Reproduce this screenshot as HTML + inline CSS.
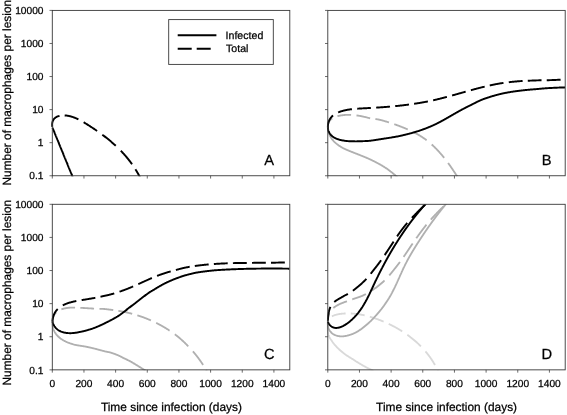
<!DOCTYPE html>
<html><head><meta charset="utf-8"><title>Figure</title>
<style>html,body{margin:0;padding:0;background:#fff}svg{display:block;will-change:transform}</style></head>
<body>
<svg text-rendering="geometricPrecision" width="567" height="415" viewBox="0 0 567 415" font-family="'Liberation Sans',Arial,sans-serif" stroke-linecap="butt">
<rect width="567" height="415" fill="#fff"/>
<defs>
<clipPath id="cpA"><rect x="51.10" y="10.40" width="238.70" height="165.75"/></clipPath>
<clipPath id="cpB"><rect x="326.60" y="10.40" width="238.60" height="165.75"/></clipPath>
<clipPath id="cpC"><rect x="51.10" y="204.30" width="238.70" height="165.95"/></clipPath>
<clipPath id="cpD"><rect x="326.60" y="204.30" width="238.60" height="165.95"/></clipPath>
</defs>
<g clip-path="url(#cpA)" fill="none" stroke-linejoin="round">
<path d="M52.49 127.63 52.60 127.89 52.70 128.15 52.81 128.40 52.91 128.66 53.02 128.91 53.12 129.17 53.23 129.43 53.33 129.68 53.43 129.94 53.54 130.19 53.64 130.45 53.75 130.71 53.85 130.96 53.96 131.22 54.06 131.47 54.17 131.73 54.27 131.99 54.38 132.24 54.48 132.50 54.59 132.75 54.69 133.01 54.80 133.27 54.90 133.52 55.00 133.78 55.11 134.04 55.21 134.29 55.32 134.55 55.42 134.80 55.53 135.06 55.63 135.32 55.74 135.57 55.84 135.83 55.95 136.08 56.05 136.34 56.16 136.60 56.26 136.85 56.37 137.11 56.47 137.36 56.57 137.62 56.68 137.88 56.78 138.13 56.89 138.39 56.99 138.64 57.10 138.90 57.20 139.16 57.31 139.41 57.41 139.67 57.52 139.92 57.62 140.18 57.73 140.44 57.83 140.69 57.94 140.95 58.04 141.20 58.14 141.46 58.25 141.72 58.35 141.97 58.46 142.23 58.56 142.48 58.67 142.74 58.77 143.00 58.88 143.25 58.98 143.51 59.09 143.76 59.19 144.02 59.30 144.28 59.40 144.53 59.51 144.79 59.61 145.05 59.71 145.30 59.82 145.56 59.92 145.81 60.03 146.07 60.13 146.33 60.24 146.58 60.34 146.84 60.45 147.09 60.55 147.35 60.66 147.61 60.76 147.86 60.87 148.12 60.97 148.37 61.08 148.63 61.18 148.89 61.28 149.14 61.39 149.40 61.49 149.65 61.60 149.91 61.70 150.17 61.81 150.42 61.91 150.68 62.02 150.93 62.12 151.19 62.23 151.45 62.33 151.70 62.44 151.96 62.54 152.21 62.65 152.47 62.75 152.73 62.85 152.98 62.96 153.24 63.06 153.49 63.17 153.75 63.27 154.01 63.38 154.26 63.48 154.52 63.59 154.78 63.69 155.03 63.80 155.29 63.90 155.54 64.01 155.80 64.11 156.06 64.22 156.31 64.32 156.57 64.43 156.82 64.53 157.08 64.63 157.34 64.74 157.59 64.84 157.85 64.95 158.10 65.05 158.36 65.16 158.62 65.26 158.87 65.37 159.13 65.47 159.38 65.58 159.64 65.68 159.90 65.79 160.15 65.89 160.41 66.00 160.66 66.10 160.92 66.20 161.18 66.31 161.43 66.41 161.69 66.52 161.94 66.62 162.20 66.73 162.46 66.83 162.71 66.94 162.97 67.04 163.22 67.15 163.48 67.25 163.74 67.36 163.99 67.46 164.25 67.57 164.50 67.67 164.76 67.77 165.02 67.88 165.27 67.98 165.53 68.09 165.79 68.19 166.04 68.30 166.30 68.40 166.55 68.51 166.81 68.61 167.07 68.72 167.32 68.82 167.58 68.93 167.83 69.03 168.09 69.14 168.35 69.24 168.60 69.34 168.86 69.45 169.11 69.55 169.37 69.66 169.63 69.76 169.88 69.87 170.14 69.97 170.39 70.08 170.65 70.18 170.91 70.29 171.16 70.39 171.42 70.50 171.67 70.60 171.93 70.71 172.19 70.81 172.44 70.91 172.70 71.02 172.95 71.12 173.21 71.23 173.47 71.33 173.72 71.44 173.98 71.54 174.23 71.65 174.49 71.75 174.75 71.86 175.00 71.96 175.26 72.07 175.51 72.17 175.77 72.28 176.03 72.38 176.28 72.48 176.54 72.59 176.80 72.69 177.05 72.80 177.31 72.90 177.56 73.01 177.82 73.11 178.08 73.22 178.33 73.32 178.59" stroke="#000" stroke-width="1.95"/>
<path d="M52.34 126.92 52.26 126.46 52.20 125.99 52.15 125.53 52.13 125.08 52.12 124.63 52.13 124.19 52.16 123.76 52.21 123.33 52.27 122.92 52.35 122.51 52.45 122.11 52.56 121.71 52.69 121.33 52.83 120.96 52.99 120.60 53.16 120.25 53.35 119.91 53.55 119.58 53.77 119.27 54.00 118.97 54.24 118.68 54.49 118.40 54.76 118.14 55.04 117.90 55.33 117.66 55.64 117.45 55.95 117.24 56.28 117.05 56.61 116.88 56.95 116.72 57.30 116.56 57.66 116.43 58.02 116.30 58.39 116.18 58.76 116.08 59.14 115.98 59.51 115.89M64.66 115.45 65.04 115.47 65.42 115.49 65.79 115.51 66.17 115.55 66.55 115.59 66.93 115.63 67.30 115.68 67.68 115.74 68.05 115.80 68.43 115.87 68.81 115.94 69.18 116.02 69.55 116.10 69.93 116.19 70.30 116.28 70.67 116.38 71.05 116.48 71.42 116.59 71.79 116.70 72.16 116.82 72.53 116.94 72.91 117.07 73.28 117.19 73.65 117.33 74.01 117.47 74.38 117.61 74.75 117.75 75.12 117.90 75.49 118.05 75.85 118.21 76.22 118.37 76.59 118.53 76.95 118.70 77.32 118.87 77.68 119.04 78.05 119.21 78.41 119.39M83.63 122.24 83.99 122.45 84.34 122.66 84.70 122.88 85.05 123.09 85.40 123.31 85.76 123.52 86.11 123.74 86.46 123.96 86.81 124.18 87.16 124.40 87.51 124.62 87.86 124.84 88.21 125.06 88.56 125.28 88.91 125.50 89.26 125.73 89.60 125.95 89.95 126.17 90.30 126.39 90.64 126.62 90.99 126.84 91.33 127.06 91.67 127.29 92.02 127.51 92.36 127.74 92.70 127.96 93.04 128.19 93.38 128.42 93.72 128.64 94.06 128.87 94.40 129.10 94.73 129.33 95.07 129.55 95.41 129.78 95.74 130.01 96.08 130.24 96.41 130.47 96.75 130.70 97.08 130.93M102.32 134.69 102.64 134.93 102.96 135.17 103.28 135.41 103.60 135.65 103.92 135.90 104.24 136.14 104.56 136.38 104.87 136.62 105.19 136.87 105.50 137.11 105.82 137.36 106.13 137.60 106.44 137.85 106.76 138.10 107.07 138.34 107.38 138.59 107.69 138.84 108.00 139.09 108.31 139.34 108.61 139.59 108.92 139.84 109.23 140.09 109.53 140.35 109.84 140.60 110.14 140.85 110.45 141.11 110.75 141.36 111.05 141.62 111.35 141.88 111.65 142.13 111.95 142.39 112.25 142.65 112.55 142.91 112.84 143.17 113.14 143.43 113.43 143.69 113.73 143.95 114.02 144.22 114.32 144.48 114.61 144.74 114.90 145.01 115.19 145.28 115.48 145.54 115.77 145.81M120.82 150.76 121.10 151.04 121.37 151.33 121.64 151.61 121.91 151.90 122.18 152.18 122.45 152.47 122.71 152.76 122.98 153.05 123.24 153.34 123.51 153.63 123.77 153.92 124.04 154.21 124.30 154.51 124.56 154.80 124.82 155.10 125.08 155.39 125.34 155.69 125.59 155.99 125.85 156.29 126.11 156.59 126.36 156.89 126.61 157.19 126.87 157.50 127.12 157.80 127.37 158.11 127.62 158.41 127.87 158.72 128.12 159.03 128.36 159.34 128.61 159.65 128.85 159.96 129.10 160.27 129.34 160.58 129.58 160.90 129.82 161.21 130.06 161.53 130.30 161.85 130.54 162.17 130.78 162.48 131.02 162.81 131.25 163.13 131.49 163.45 131.72 163.77 131.95 164.10 132.07 164.26M135.42 169.28 135.64 169.62 135.85 169.97 136.07 170.31 136.28 170.66 136.49 171.01 136.70 171.36 136.91 171.71 137.12 172.06 137.32 172.41 137.53 172.77 137.74 173.12 137.94 173.48 138.14 173.84 138.34 174.20 138.54 174.56 138.74 174.92 138.94 175.28 139.14 175.65 139.34 176.01 139.53 176.38 139.72 176.75 139.92 177.12 140.11 177.49 140.30 177.86 140.49 178.24 140.68 178.61" stroke="#000" stroke-width="1.95"/>
</g>
<rect x="52.30" y="10.40" width="237.50" height="165.35" fill="none" stroke="#383838" stroke-width="0.90"/>
<path d="M49.50 10.40h2.80M49.50 43.47h2.80M49.50 76.54h2.80M49.50 109.61h2.80M49.50 142.68h2.80M49.50 175.75h2.80M52.30 175.75v2.80M83.96 175.75v2.80M115.62 175.75v2.80M147.28 175.75v2.80M178.94 175.75v2.80M210.60 175.75v2.80M242.26 175.75v2.80M273.92 175.75v2.80" stroke="#3a3a3a" stroke-width="0.75" fill="none"/>
<g clip-path="url(#cpB)" fill="none" stroke-linejoin="round">
<path d="M327.82 127.14 327.85 127.58 327.88 128.03 327.92 128.46 327.97 128.90 328.02 129.32 328.08 129.74 328.15 130.16 328.23 130.57 328.31 130.98 328.40 131.38 328.50 131.77 328.60 132.16 328.71 132.55 328.82 132.93 328.95 133.31 329.07 133.68 329.21 134.04 329.35 134.41 329.50 134.76 329.65 135.12 329.81 135.46 329.97 135.81 330.14 136.15 330.32 136.48 330.50 136.81 330.69 137.14 330.88 137.46 331.08 137.78 331.28 138.09 331.49 138.40 331.70 138.71 331.92 139.01 332.14 139.31 332.37 139.60 332.60 139.89 332.84 140.18 333.08 140.46 333.33 140.74 333.58 141.02 333.84 141.29 334.10 141.56 334.36 141.83 334.63 142.09 334.90 142.35 335.18 142.61 335.46 142.86 335.74 143.11 336.03 143.36 336.32 143.60 336.61 143.84 336.91 144.08 337.21 144.32 337.52 144.55 337.83 144.78 338.14 145.01 338.45 145.23 338.77 145.46 339.09 145.68 339.41 145.89 339.74 146.11 340.07 146.32 340.40 146.53 340.73 146.74 341.07 146.95 341.41 147.15 341.75 147.36 342.09 147.56 342.44 147.75 342.78 147.95 343.13 148.14 343.48 148.31 343.84 148.48 344.19 148.65 344.55 148.82 344.90 148.99 345.26 149.15 345.62 149.31 345.99 149.48 346.35 149.64 346.71 149.80 347.08 149.96 347.45 150.11 347.81 150.27 348.18 150.42 348.55 150.58 348.92 150.73 349.29 150.89 349.66 151.04 350.03 151.19 350.40 151.34 350.78 151.49 351.15 151.64 351.52 151.79 351.89 151.94 352.26 152.09 352.64 152.23 353.01 152.38 353.38 152.53 353.75 152.67 354.13 152.82 354.50 152.97 354.87 153.11 355.24 153.26 355.62 153.40 355.99 153.55 356.36 153.69 356.73 153.84 357.10 153.98 357.48 154.13 357.85 154.27 358.22 154.42 358.59 154.57 358.96 154.71 359.33 154.86 359.70 155.01 360.08 155.16 360.45 155.31 360.82 155.46 361.19 155.60 361.56 155.75 361.93 155.90 362.30 156.05 362.67 156.20 363.04 156.35 363.41 156.50 363.77 156.65 364.14 156.80 364.51 156.95 364.88 157.10 365.25 157.25 365.61 157.40 365.98 157.56 366.35 157.71 366.71 157.87 367.08 158.03 367.45 158.18 367.81 158.34 368.18 158.51 368.54 158.67 368.90 158.83 369.27 159.00 369.63 159.17 369.99 159.34 370.36 159.51 370.72 159.68 371.08 159.85 371.44 160.02 371.80 160.20 372.16 160.37 372.52 160.54 372.88 160.72 373.24 160.90 373.59 161.07 373.95 161.25 374.31 161.43 374.66 161.61 375.02 161.79 375.38 161.97 375.73 162.15 376.08 162.33 376.44 162.52 376.79 162.70 377.14 162.89 377.49 163.07 377.84 163.26 378.19 163.45 378.54 163.64 378.89 163.83 379.24 164.02 379.59 164.21 379.93 164.40 380.28 164.60 380.62 164.79 380.97 164.99 381.31 165.19 381.65 165.39 381.99 165.59 382.34 165.80 382.68 166.00 383.01 166.21 383.35 166.42 383.69 166.63 384.03 166.84 384.36 167.05 384.70 167.27 385.03 167.49 385.37 167.70 385.70 167.92 386.03 168.14 386.36 168.37 386.69 168.59 387.02 168.82 387.35 169.04 387.68 169.27 388.00 169.50 388.33 169.74 388.65 169.97 388.97 170.20 389.30 170.44 389.62 170.68 389.94 170.92 390.26 171.16 390.57 171.41 390.89 171.65 391.21 171.90 391.52 172.15 391.84 172.40 392.15 172.65 392.46 172.91 392.77 173.17 393.08 173.43 393.39 173.69 393.69 173.95 394.00 174.22 394.30 174.49 394.61 174.75 394.91 175.03 395.21 175.30 395.51 175.58 395.81 175.85 396.11 176.13 396.40 176.41 396.70 176.69 396.99 176.97 397.28 177.25 397.57 177.54 397.86 177.83" stroke="#b0b0b0" stroke-width="1.85"/>
<path d="M327.83 127.13 327.83 126.65 327.85 126.19 327.88 125.73 327.93 125.29 328.00 124.86 328.07 124.45 328.16 124.05 328.27 123.66 328.39 123.28 328.52 122.91 328.66 122.56 328.82 122.22 328.99 121.89 329.17 121.57 329.36 121.26 329.56 120.96 329.77 120.67 329.99 120.39 330.23 120.12 330.47 119.86 330.72 119.61 330.98 119.37 331.25 119.14 331.53 118.92 331.82 118.70 332.11 118.50 332.26 118.40M337.43 116.19 337.81 116.09 338.19 115.99 338.57 115.90 338.96 115.81 339.34 115.73 339.73 115.65 340.12 115.57 340.52 115.50 340.91 115.43 341.31 115.37 341.71 115.31 342.11 115.26 342.51 115.21 342.91 115.16 343.31 115.11 343.72 115.08 344.12 115.04 344.53 115.01 344.94 114.98 345.35 114.95 345.76 114.93 346.16 114.91 346.57 114.90 346.98 114.88 347.39 114.88 347.80 114.87 348.22 114.87 348.63 114.87 349.04 114.87 349.44 114.88 349.85 114.89 350.26 114.90 350.67 114.91 351.08 114.93M356.49 115.41 356.88 115.46 357.28 115.51 357.67 115.57 358.06 115.63 358.46 115.69 358.85 115.75 359.24 115.81 359.63 115.88 360.02 115.95 360.40 116.02 360.79 116.09 361.18 116.16 361.57 116.24 361.95 116.31 362.34 116.39 362.72 116.47 363.11 116.56 363.49 116.64 363.87 116.73 364.26 116.81 364.64 116.90 365.02 116.99 365.40 117.08 365.78 117.18 366.17 117.27 366.55 117.37 366.93 117.47 367.31 117.56 367.68 117.66 368.06 117.77 368.44 117.87 368.82 117.97 369.20 118.08 369.58 118.18 369.95 118.29 370.14 118.35M375.40 119.02 375.78 119.07 376.15 119.13 376.53 119.18 376.90 119.24 377.28 119.30 377.65 119.37 378.03 119.43 378.40 119.50 378.78 119.58 379.15 119.65 379.53 119.73 379.91 119.82 380.28 119.90 380.66 120.00 381.03 120.09 381.41 120.19 381.79 120.29 382.16 120.40 382.54 120.51 382.92 120.62 383.29 120.73 383.67 120.84 384.05 120.95 384.43 121.06 384.81 121.17 385.19 121.28 385.56 121.39 385.94 121.50 386.32 121.62 386.70 121.73 387.08 121.84 387.46 121.96 387.84 122.07 388.22 122.19 388.60 122.31 388.98 122.43M394.30 124.18 394.68 124.32 395.06 124.46 395.44 124.59 395.82 124.73 396.20 124.87 396.58 125.00 396.96 125.14 397.34 125.28 397.71 125.42 398.09 125.56 398.47 125.70 398.85 125.85 399.22 125.99 399.60 126.13 399.98 126.27 400.36 126.42 400.73 126.56 401.11 126.71 401.48 126.86 401.86 127.00 402.23 127.15 402.61 127.30 402.98 127.45 403.35 127.60 403.73 127.75 404.10 127.90 404.47 128.06 404.84 128.21 405.22 128.36 405.59 128.52 405.96 128.68 406.33 128.83 406.70 128.99 407.06 129.15 407.43 129.31 407.80 129.47M413.06 131.93 413.42 132.10 413.77 132.28 414.13 132.46 414.48 132.64 414.84 132.83 415.19 133.01 415.54 133.20 415.90 133.39 416.25 133.57 416.60 133.77 416.94 133.96 417.29 134.15 417.64 134.35 417.99 134.54 418.33 134.74 418.67 134.94 419.02 135.15 419.36 135.35 419.70 135.56 420.04 135.76 420.38 135.97 420.72 136.18 421.06 136.40 421.39 136.61 421.73 136.83 422.06 137.04 422.39 137.26 422.73 137.48 423.06 137.71 423.39 137.93 423.71 138.16 424.04 138.38 424.37 138.61 424.69 138.85 425.02 139.08 425.34 139.31 425.66 139.55 425.98 139.79 426.30 140.03 426.62 140.27M431.69 144.48 431.99 144.75 432.29 145.02 432.58 145.29 432.88 145.56 433.17 145.83 433.47 146.11 433.76 146.39 434.05 146.67 434.34 146.95 434.63 147.23 434.92 147.51 435.20 147.79 435.49 148.08 435.77 148.36 436.06 148.65 436.34 148.94 436.62 149.23 436.90 149.52 437.18 149.82 437.46 150.11 437.74 150.41 438.02 150.70 438.30 151.00 438.57 151.30 438.85 151.60 439.12 151.90 439.39 152.20 439.66 152.51 439.94 152.81 440.21 153.12 440.48 153.42 440.74 153.73 441.01 154.04 441.28 154.35 441.54 154.66 441.81 154.97 442.07 155.28 442.34 155.60 442.60 155.91 442.86 156.23 443.12 156.54 443.38 156.86 443.64 157.18 443.90 157.50 444.16 157.82M448.07 162.91 448.31 163.25 448.56 163.59 448.80 163.93 449.05 164.27 449.29 164.61 449.53 164.95 449.77 165.29 450.02 165.64 450.26 165.98 450.50 166.33 450.74 166.67 450.98 167.02 451.22 167.36 451.45 167.71 451.69 168.06 451.93 168.41 452.17 168.75 452.40 169.10 452.64 169.45 452.87 169.80 453.11 170.15 453.34 170.50 453.57 170.85 453.80 171.21 454.04 171.56 454.27 171.91 454.50 172.26 454.73 172.61 454.96 172.97 455.19 173.32 455.42 173.67 455.65 174.02 455.88 174.38 456.10 174.72 456.33 175.04 456.56 175.37 456.79 175.70 457.01 176.02 457.24 176.35" stroke="#b0b0b0" stroke-width="1.85"/>
<path d="M327.83 127.13 327.86 127.61 327.91 128.07 327.98 128.53 328.05 128.97 328.14 129.40 328.24 129.82 328.35 130.24 328.47 130.64 328.60 131.03 328.74 131.41 328.89 131.78 329.06 132.14 329.23 132.49 329.42 132.83 329.61 133.17 329.81 133.49 330.03 133.81 330.25 134.11 330.48 134.41 330.71 134.70 330.96 134.98 331.22 135.25 331.48 135.51 331.75 135.77 332.03 136.01 332.31 136.25 332.60 136.49 332.90 136.71 333.21 136.93 333.52 137.14 333.84 137.34 334.16 137.54 334.49 137.73 334.82 137.91 335.16 138.08 335.51 138.25 335.86 138.42 336.21 138.57 336.57 138.73 336.93 138.87 337.30 139.01 337.67 139.14 338.04 139.27 338.42 139.40 338.80 139.51 339.18 139.63 339.56 139.74 339.95 139.84 340.34 139.94 340.73 140.03 341.12 140.12 341.51 140.21 341.90 140.29 342.30 140.37 342.69 140.44 343.09 140.52 343.49 140.58 343.88 140.65 344.28 140.71 344.68 140.76 345.07 140.82 345.47 140.87 345.87 140.92 346.26 140.96 346.66 141.00 347.06 141.04 347.46 141.08 347.85 141.11 348.25 141.14 348.65 141.16 349.05 141.19 349.44 141.21 349.84 141.23 350.24 141.24 350.64 141.26 351.04 141.27 351.43 141.27 351.83 141.28 352.23 141.29 352.63 141.30 353.03 141.31 353.43 141.32 353.82 141.33 354.22 141.34 354.62 141.34 355.02 141.35 355.42 141.35 355.82 141.35 356.22 141.35 356.62 141.35 357.02 141.34 357.41 141.34 357.81 141.33 358.21 141.32 358.61 141.31 359.01 141.30 359.41 141.29 359.81 141.28 360.21 141.27 360.61 141.25 361.01 141.23 361.41 141.22 361.80 141.20 362.20 141.18 362.60 141.16 363.00 141.15 363.40 141.13 363.80 141.12 364.20 141.11 364.60 141.10 365.00 141.08 365.40 141.07 365.80 141.06 366.20 141.04 366.60 141.03 366.99 141.01 367.39 140.99 367.79 140.96 368.19 140.94 368.59 140.90 368.99 140.87 369.39 140.83 369.79 140.78 370.19 140.73 370.59 140.68 370.98 140.63 371.38 140.58 371.78 140.52 372.18 140.47 372.58 140.41 372.98 140.35 373.38 140.30 373.77 140.24 374.17 140.18 374.57 140.12 374.97 140.06 375.37 140.00 375.77 139.94 376.16 139.88 376.56 139.82 376.96 139.76 377.36 139.70 377.75 139.64 378.15 139.58 378.55 139.52 378.95 139.45 379.34 139.39 379.74 139.33 380.14 139.27 380.54 139.21 380.93 139.14 381.33 139.08 381.73 139.02 382.12 138.96 382.52 138.89 382.92 138.83 383.31 138.77 383.71 138.71 384.10 138.65 384.50 138.58 384.90 138.52 385.29 138.46 385.69 138.40 386.08 138.34 386.48 138.27 386.87 138.21 387.27 138.15 387.66 138.09 388.06 138.03 388.45 137.97 388.85 137.91 389.24 137.84 389.63 137.78 390.03 137.72 390.42 137.66 390.82 137.59 391.21 137.53 391.60 137.46 392.00 137.40 392.39 137.33 392.78 137.27 393.17 137.20 393.57 137.14 393.96 137.07 394.35 137.00 394.74 136.93 395.14 136.86 395.53 136.79 395.92 136.72 396.31 136.65 396.70 136.57 397.09 136.50 397.48 136.42 397.87 136.34 398.26 136.27 398.65 136.19 399.04 136.11 399.43 136.03 399.82 135.94 400.21 135.86 400.60 135.77 400.99 135.69 401.38 135.60 401.77 135.51 402.15 135.43 402.54 135.34 402.93 135.25 403.32 135.16 403.70 135.07 404.09 134.98 404.48 134.89 404.86 134.80 405.25 134.70 405.64 134.61 406.02 134.51 406.41 134.42 406.79 134.32 407.18 134.23 407.56 134.13 407.95 134.03 408.33 133.93 408.72 133.83 409.10 133.73 409.48 133.63 409.87 133.53 410.25 133.43 410.63 133.32 411.01 133.22 411.40 133.11 411.78 133.01 412.16 132.90 412.54 132.79 412.92 132.68 413.30 132.57 413.68 132.46 414.06 132.35 414.44 132.24 414.82 132.13 415.20 132.01 415.58 131.90 415.96 131.78 416.34 131.67 416.72 131.55 417.09 131.43 417.47 131.31 417.85 131.19 418.22 131.07 418.60 130.95 418.98 130.82 419.35 130.70 419.73 130.58 420.10 130.45 420.48 130.32 420.85 130.19 421.23 130.07 421.60 129.94 421.97 129.81 422.35 129.67 422.72 129.54 423.09 129.41 423.47 129.27 423.84 129.14 424.21 129.00 424.58 128.86 424.95 128.72 425.32 128.58 425.69 128.44 426.06 128.30 426.43 128.16 426.80 128.01 427.17 127.87 427.54 127.72 427.90 127.57 428.27 127.42 428.64 127.27 429.00 127.12 429.37 126.97 429.74 126.82 430.10 126.66 430.47 126.51 430.83 126.35 431.20 126.19 431.56 126.04 431.92 125.88 432.29 125.71 432.65 125.55 433.01 125.39 433.37 125.22 433.74 125.06 434.10 124.89 434.46 124.72 434.82 124.55 435.18 124.38 435.54 124.21 435.90 124.03 436.25 123.86 436.61 123.68 436.97 123.50 437.33 123.32 437.69 123.14 438.04 122.96 438.40 122.78 438.75 122.60 439.11 122.41 439.46 122.23 439.82 122.04 440.17 121.85 440.53 121.66 440.88 121.48 441.24 121.29 441.59 121.09 441.94 120.90 442.29 120.71 442.65 120.52 443.00 120.32 443.35 120.13 443.70 119.93 444.05 119.74 444.40 119.54 444.76 119.34 445.11 119.15 445.46 118.95 445.81 118.75 446.16 118.55 446.51 118.35 446.86 118.15 447.20 117.95 447.55 117.75 447.90 117.55 448.25 117.35 448.60 117.15 448.95 116.95 449.30 116.75 449.64 116.55 449.99 116.35 450.34 116.14 450.69 115.94 451.04 115.74 451.38 115.54 451.73 115.34 452.08 115.14 452.42 114.94 452.77 114.74 453.12 114.54 453.47 114.34 453.81 114.14 454.16 113.94 454.51 113.74 454.85 113.54 455.20 113.34 455.55 113.14 455.89 112.94 456.24 112.75 456.59 112.55 456.93 112.36 457.28 112.16 457.63 111.97 457.97 111.77 458.32 111.58 458.67 111.38 459.02 111.19 459.36 111.00 459.71 110.81 460.06 110.62 460.40 110.43 460.75 110.24 461.10 110.05 461.45 109.86 461.79 109.67 462.14 109.48 462.49 109.30 462.84 109.11 463.19 108.93 463.54 108.74 463.88 108.56 464.23 108.37 464.58 108.19 464.93 108.01 465.28 107.83 465.63 107.65 465.98 107.47 466.33 107.29 466.68 107.11 467.03 106.93 467.38 106.75 467.74 106.58 468.09 106.40 468.44 106.23 468.79 106.05 469.15 105.88 469.50 105.71 469.85 105.53 470.21 105.36 470.56 105.19 470.92 105.01 471.27 104.84 471.63 104.66 471.99 104.48 472.34 104.30 472.70 104.12 473.06 103.93 473.42 103.75 473.78 103.57 474.14 103.38 474.50 103.20 474.86 103.02 475.22 102.83 475.58 102.65 475.94 102.46 476.31 102.28 476.67 102.10 477.03 101.92 477.40 101.74 477.76 101.56 478.13 101.38 478.49 101.21 478.86 101.03 479.23 100.86 479.60 100.69 479.97 100.52 480.33 100.36 480.70 100.20 481.07 100.04 481.44 99.88 481.81 99.73 482.19 99.58 482.56 99.44 482.93 99.29 483.30 99.16 483.67 99.02 484.05 98.88 484.42 98.75 484.80 98.61 485.17 98.48 485.55 98.35 485.92 98.22 486.30 98.09 486.68 97.96 487.05 97.84 487.43 97.71 487.81 97.58 488.19 97.46 488.56 97.34 488.94 97.22 489.32 97.09 489.70 96.97 490.08 96.86 490.46 96.74 490.84 96.62 491.22 96.50 491.61 96.39 491.99 96.28 492.37 96.16 492.75 96.05 493.13 95.94 493.52 95.83 493.90 95.72 494.29 95.61 494.67 95.50 495.05 95.39 495.44 95.29 495.82 95.18 496.21 95.08 496.59 94.97 496.98 94.87 497.37 94.77 497.75 94.67 498.14 94.57 498.52 94.47 498.91 94.38 499.30 94.28 499.69 94.18 500.07 94.09 500.46 94.00 500.85 93.91 501.24 93.82 501.63 93.73 502.02 93.64 502.41 93.55 502.79 93.47 503.18 93.38 503.57 93.30 503.96 93.22 504.35 93.13 504.74 93.05 505.13 92.97 505.53 92.90 505.92 92.82 506.31 92.74 506.70 92.67 507.09 92.59 507.48 92.52 507.87 92.45 508.27 92.38 508.66 92.31 509.05 92.24 509.44 92.17 509.84 92.10 510.23 92.04 510.62 91.97 511.01 91.91 511.41 91.85 511.80 91.79 512.20 91.73 512.59 91.67 512.98 91.61 513.38 91.55 513.77 91.49 514.17 91.44 514.56 91.38 514.96 91.33 515.35 91.27 515.75 91.22 516.14 91.17 516.54 91.12 516.93 91.06 517.33 91.01 517.72 90.96 518.12 90.91 518.52 90.86 518.91 90.81 519.31 90.77 519.70 90.72 520.10 90.67 520.50 90.62 520.90 90.58 521.29 90.53 521.69 90.48 522.09 90.44 522.48 90.39 522.88 90.35 523.28 90.30 523.68 90.26 524.07 90.22 524.47 90.17 524.87 90.13 525.27 90.09 525.67 90.05 526.06 90.01 526.46 89.97 526.86 89.93 527.26 89.89 527.66 89.85 528.06 89.81 528.45 89.77 528.85 89.74 529.25 89.70 529.65 89.66 530.05 89.63 530.45 89.59 530.85 89.56 531.25 89.52 531.65 89.49 532.05 89.45 532.45 89.42 532.84 89.39 533.24 89.35 533.64 89.32 534.04 89.29 534.44 89.26 534.84 89.23 535.24 89.20 535.64 89.16 536.04 89.13 536.44 89.10 536.84 89.06 537.24 89.03 537.64 88.99 538.04 88.96 538.44 88.92 538.84 88.89 539.24 88.85 539.64 88.81 540.04 88.77 540.44 88.74 540.84 88.70 541.24 88.66 541.64 88.63 542.04 88.59 542.44 88.55 542.84 88.52 543.24 88.48 543.64 88.45 544.04 88.41 544.44 88.38 544.84 88.35 545.24 88.32 545.64 88.29 546.04 88.26 546.44 88.23 546.84 88.20 547.24 88.18 547.64 88.15 548.04 88.13 548.44 88.11 548.84 88.08 549.24 88.06 549.64 88.04 550.04 88.01 550.44 87.99 550.84 87.97 551.24 87.95 551.64 87.93 552.04 87.91 552.44 87.89 552.84 87.87 553.24 87.85 553.64 87.83 554.04 87.81 554.44 87.79 554.84 87.77 555.24 87.75 555.64 87.73 556.04 87.71 556.44 87.70 556.84 87.68 557.23 87.66 557.63 87.64 558.03 87.63 558.43 87.61 558.83 87.60 559.23 87.58 559.63 87.56 560.03 87.55 560.42 87.53 560.82 87.52 561.22 87.50 561.62 87.49 562.02 87.48 562.41 87.46 562.81 87.45 563.21 87.43 563.61 87.42 564.00 87.41 564.40 87.40 564.80 87.40 565.20 87.39" stroke="#000" stroke-width="1.95"/>
<path d="M327.82 127.13 327.83 126.65 327.85 126.18 327.89 125.71 327.93 125.26 327.98 124.81 328.04 124.37 328.12 123.94 328.20 123.52 328.29 123.11 328.39 122.71 328.50 122.32 328.62 121.93 328.75 121.55 328.89 121.18 329.04 120.82 329.19 120.47 329.35 120.13 329.52 119.79 329.70 119.46 329.89 119.14 330.08 118.82 330.29 118.51 330.50 118.21 330.71 117.92 330.93 117.63 331.16 117.35 331.40 117.08 331.64 116.81 331.89 116.55 332.15 116.30 332.41 116.05 332.68 115.81 332.95 115.57 333.09 115.46M338.13 112.47 338.47 112.32 338.82 112.18 339.17 112.04 339.52 111.91 339.88 111.77 340.24 111.65 340.60 111.52 340.96 111.40 341.32 111.28 341.69 111.17 342.05 111.06 342.42 110.95 342.79 110.84 343.17 110.74 343.54 110.64 343.92 110.55 344.29 110.46 344.67 110.37 345.05 110.28 345.44 110.20 345.82 110.12 346.21 110.04 346.59 109.96 346.98 109.89 347.37 109.82 347.76 109.75 348.16 109.68 348.55 109.62 348.94 109.56 349.34 109.50 349.74 109.44 350.14 109.38 350.53 109.33 350.93 109.28 351.34 109.23 351.74 109.18 351.94 109.16M357.24 108.68 357.66 108.66 358.07 108.63 358.48 108.60 358.89 108.58 359.31 108.55 359.72 108.53 360.13 108.50 360.55 108.48 360.96 108.46 361.37 108.44 361.79 108.41 362.20 108.39 362.62 108.37 363.03 108.35 363.44 108.33 363.86 108.31 364.27 108.29 364.68 108.27 365.10 108.25 365.51 108.22 365.92 108.20 366.33 108.18 366.75 108.16 367.16 108.14 367.57 108.12 367.98 108.09 368.39 108.07 368.80 108.05 369.21 108.03 369.62 108.00 370.03 107.98 370.44 107.96 370.85 107.94M376.15 107.62 376.55 107.60 376.96 107.57 377.36 107.54 377.77 107.52 378.18 107.49 378.58 107.46 378.98 107.44 379.39 107.41 379.79 107.38 380.20 107.35 380.60 107.33 381.00 107.30 381.41 107.27 381.81 107.24 382.21 107.21 382.62 107.18 383.02 107.16 383.42 107.13 383.82 107.10 384.22 107.07 384.63 107.04 385.03 107.00 385.43 106.97 385.83 106.94 386.23 106.91 386.63 106.88 387.03 106.85 387.43 106.82 387.83 106.78 388.23 106.75 388.63 106.72 389.03 106.68 389.43 106.65 389.83 106.62 390.03 106.60M395.20 106.13 395.60 106.09 395.99 106.05 396.39 106.01 396.78 105.97 397.18 105.93 397.58 105.89 397.97 105.85 398.37 105.81 398.76 105.76 399.16 105.72 399.55 105.68 399.95 105.64 400.34 105.59 400.74 105.55 401.13 105.51 401.53 105.46 401.92 105.42 402.31 105.37 402.71 105.33 403.10 105.28 403.50 105.23 403.89 105.19 404.28 105.14 404.68 105.09 405.07 105.05 405.46 105.00 405.85 104.95 406.25 104.90 406.64 104.85 407.03 104.80 407.42 104.75 407.82 104.70 408.21 104.65 408.60 104.59 408.99 104.54M414.08 103.82 414.47 103.76 414.86 103.70 415.25 103.64 415.64 103.58 416.03 103.52 416.42 103.46 416.81 103.40 417.20 103.33 417.59 103.27 417.98 103.21 418.37 103.14 418.76 103.08 419.15 103.01 419.54 102.95 419.92 102.88 420.31 102.82 420.70 102.75 421.09 102.68 421.48 102.61 421.87 102.54 422.26 102.48 422.65 102.41 423.04 102.33 423.42 102.26 423.81 102.19 424.20 102.12 424.59 102.05 424.98 101.97 425.37 101.90 425.76 101.83 426.14 101.75 426.53 101.68 426.92 101.60 427.31 101.52 427.70 101.45 427.89 101.41M433.12 100.30 433.51 100.21 433.90 100.12 434.29 100.04 434.67 99.95 435.06 99.86 435.45 99.77 435.84 99.68 436.22 99.59 436.61 99.50 437.00 99.40 437.39 99.31 437.77 99.22 438.16 99.13 438.55 99.03 438.93 98.94 439.32 98.84 439.71 98.75 440.10 98.65 440.48 98.55 440.87 98.46 441.26 98.36 441.64 98.26 442.03 98.16 442.42 98.06 442.80 97.96 443.19 97.86 443.58 97.76 443.97 97.66 444.35 97.56 444.74 97.46 445.13 97.36 445.51 97.26 445.90 97.15 446.29 97.05 446.67 96.95 446.87 96.90M452.09 95.47 452.48 95.37 452.87 95.26 453.25 95.15 453.64 95.04 454.03 94.94 454.41 94.83 454.80 94.72 455.19 94.61 455.58 94.50 455.96 94.39 456.35 94.29 456.74 94.18 457.12 94.07 457.51 93.96 457.90 93.85 458.29 93.74 458.67 93.63 459.06 93.52 459.45 93.41 459.83 93.30 460.22 93.19 460.61 93.08 461.00 92.97 461.38 92.86 461.77 92.75 462.16 92.64 462.55 92.54 462.93 92.43 463.32 92.32 463.71 92.21 464.10 92.10 464.48 91.99 464.87 91.88 465.26 91.77 465.65 91.66M470.88 90.20 471.27 90.10 471.66 89.99 472.04 89.88 472.43 89.78 472.82 89.67 473.21 89.57 473.60 89.46 473.99 89.36 474.37 89.25 474.76 89.15 475.15 89.04 475.54 88.94 475.93 88.84 476.32 88.73 476.70 88.63 477.09 88.53 477.48 88.43 477.87 88.32 478.26 88.22 478.65 88.12 479.04 88.02 479.43 87.92 479.82 87.82 480.20 87.72 480.59 87.62 480.98 87.53 481.37 87.43 481.76 87.33 482.15 87.23 482.54 87.14 482.93 87.04 483.32 86.95 483.71 86.85 484.10 86.76 484.49 86.66 484.68 86.61M489.75 85.45 490.14 85.36 490.53 85.28 490.93 85.19 491.32 85.11 491.71 85.03 492.10 84.95 492.49 84.86 492.88 84.78 493.27 84.70 493.66 84.62 494.05 84.55 494.45 84.47 494.84 84.39 495.23 84.31 495.62 84.24 496.01 84.16 496.40 84.09 496.79 84.02 497.19 83.94 497.58 83.87 497.97 83.80 498.36 83.73 498.75 83.66 499.15 83.59 499.54 83.52 499.93 83.45 500.32 83.39 500.72 83.33 501.11 83.27 501.50 83.21 501.89 83.15 502.29 83.09 502.68 83.03 503.07 82.97 503.47 82.91M508.78 82.22 509.17 82.17 509.57 82.12 509.96 82.08 510.36 82.03 510.75 81.99 511.14 81.95 511.54 81.90 511.93 81.86 512.33 81.82 512.72 81.78 513.12 81.74 513.51 81.70 513.91 81.66 514.30 81.62 514.70 81.59 515.09 81.55 515.49 81.51 515.88 81.48 516.28 81.44 516.67 81.41 517.07 81.37 517.47 81.34 517.86 81.31 518.26 81.28 518.65 81.24 519.05 81.21 519.44 81.18 519.84 81.15 520.24 81.12 520.63 81.10 521.03 81.07 521.43 81.04 521.82 81.02 522.22 81.00 522.61 80.97M527.78 80.73 528.17 80.72 528.57 80.70 528.97 80.69 529.37 80.67 529.76 80.66 530.16 80.64 530.56 80.63 530.96 80.62 531.36 80.60 531.75 80.59 532.15 80.57 532.55 80.56 532.95 80.54 533.35 80.53 533.75 80.51 534.14 80.50 534.54 80.48 534.94 80.47 535.34 80.45 535.74 80.43 536.14 80.42 536.54 80.40 536.94 80.39 537.33 80.38 537.73 80.36 538.13 80.35 538.53 80.34 538.93 80.32 539.33 80.31 539.73 80.30 540.13 80.29 540.53 80.28 540.93 80.27 541.33 80.26 541.53 80.26M546.73 80.17 547.13 80.17 547.54 80.17 547.94 80.16 548.34 80.16 548.74 80.16 549.14 80.15 549.54 80.15 549.94 80.14 550.34 80.13 550.75 80.12 551.15 80.11 551.55 80.10 551.95 80.08 552.35 80.07 552.75 80.06 553.16 80.04 553.56 80.03 553.96 80.01 554.36 79.99 554.76 79.98 555.17 79.96 555.57 79.94 555.97 79.92 556.37 79.90 556.77 79.88 557.18 79.86 557.58 79.84 557.98 79.82 558.39 79.80 558.79 79.78 559.19 79.76 559.59 79.74 560.00 79.73 560.40 79.71 560.60 79.70" stroke="#000" stroke-width="1.95"/>
</g>
<rect x="327.80" y="10.40" width="237.40" height="165.35" fill="none" stroke="#383838" stroke-width="0.90"/>
<path d="M325.00 10.40h2.80M325.00 43.47h2.80M325.00 76.54h2.80M325.00 109.61h2.80M325.00 142.68h2.80M325.00 175.75h2.80M327.80 175.75v2.80M359.46 175.75v2.80M391.12 175.75v2.80M422.78 175.75v2.80M454.44 175.75v2.80M486.10 175.75v2.80M517.76 175.75v2.80M549.42 175.75v2.80" stroke="#3a3a3a" stroke-width="0.75" fill="none"/>
<g clip-path="url(#cpC)" fill="none" stroke-linejoin="round">
<path d="M52.49 321.63 52.47 322.11 52.46 322.58 52.46 323.04 52.47 323.50 52.49 323.95 52.52 324.40 52.55 324.83 52.60 325.27 52.65 325.70 52.72 326.12 52.79 326.53 52.87 326.94 52.95 327.35 53.05 327.75 53.15 328.14 53.26 328.53 53.38 328.91 53.50 329.29 53.64 329.66 53.78 330.03 53.93 330.39 54.08 330.74 54.24 331.09 54.41 331.44 54.59 331.78 54.77 332.11 54.96 332.44 55.15 332.76 55.36 333.08 55.56 333.40 55.78 333.71 56.00 334.01 56.22 334.31 56.45 334.60 56.69 334.89 56.93 335.18 57.18 335.46 57.43 335.74 57.69 336.01 57.95 336.27 58.22 336.54 58.49 336.79 58.77 337.05 59.05 337.30 59.33 337.54 59.62 337.78 59.92 338.02 60.22 338.25 60.52 338.48 60.83 338.70 61.14 338.92 61.45 339.14 61.77 339.35 62.09 339.56 62.41 339.76 62.74 339.96 63.07 340.16 63.40 340.35 63.73 340.54 64.07 340.72 64.41 340.90 64.75 341.08 65.10 341.26 65.45 341.43 65.80 341.60 66.15 341.76 66.50 341.92 66.86 342.08 67.22 342.23 67.58 342.39 67.94 342.53 68.30 342.68 68.67 342.82 69.03 342.96 69.40 343.10 69.77 343.24 70.15 343.37 70.52 343.50 70.90 343.63 71.27 343.75 71.65 343.87 72.03 343.99 72.42 344.11 72.80 344.23 73.18 344.34 73.57 344.46 73.96 344.57 74.34 344.68 74.73 344.78 75.12 344.88 75.51 344.95 75.90 345.02 76.30 345.09 76.69 345.16 77.09 345.22 77.48 345.29 77.88 345.36 78.27 345.42 78.67 345.48 79.07 345.55 79.47 345.61 79.87 345.68 80.27 345.74 80.66 345.80 81.06 345.86 81.46 345.93 81.87 345.99 82.27 346.06 82.67 346.12 83.07 346.19 83.47 346.25 83.87 346.32 84.27 346.39 84.67 346.46 85.07 346.53 85.47 346.60 85.87 346.67 86.27 346.75 86.67 346.83 87.07 346.90 87.47 346.98 87.87 347.07 88.27 347.15 88.67 347.23 89.06 347.32 89.46 347.41 89.86 347.49 90.25 347.58 90.65 347.67 91.04 347.77 91.43 347.86 91.83 347.95 92.22 348.04 92.61 348.14 93.01 348.23 93.40 348.33 93.79 348.43 94.18 348.53 94.57 348.62 94.96 348.72 95.35 348.82 95.74 348.92 96.13 349.02 96.51 349.12 96.90 349.23 97.29 349.33 97.67 349.43 98.06 349.53 98.45 349.64 98.83 349.74 99.22 349.84 99.60 349.95 99.98 350.05 100.37 350.15 100.75 350.26 101.13 350.36 101.51 350.46 101.90 350.56 102.28 350.66 102.66 350.77 103.04 350.87 103.42 350.97 103.80 351.07 104.18 351.17 104.56 351.27 104.94 351.36 105.31 351.46 105.69 351.55 106.07 351.63 106.45 351.71 106.82 351.78 107.20 351.85 107.57 351.92 107.95 351.98 108.32 352.05 108.70 352.13 109.07 352.20 109.45 352.28 109.82 352.37 110.19 352.47 110.57 352.57 110.94 352.69 111.31 352.81 111.68 352.93 112.05 353.06 112.43 353.19 112.80 353.31 113.17 353.44 113.54 353.57 113.91 353.70 114.28 353.83 114.65 353.97 115.01 354.10 115.38 354.24 115.75 354.38 116.12 354.52 116.49 354.66 116.85 354.80 117.22 354.94 117.59 355.09 117.95 355.24 118.32 355.40 118.69 355.57 119.05 355.74 119.42 355.92 119.78 356.10 120.15 356.29 120.51 356.47 120.87 356.66 121.24 356.86 121.60 357.05 121.96 357.24 122.33 357.43 122.69 357.62 123.05 357.81 123.41 357.99 123.78 358.17 124.14 358.34 124.50 358.51 124.86 358.68 125.22 358.85 125.58 359.03 125.94 359.20 126.30 359.37 126.66 359.54 127.02 359.71 127.38 359.88 127.74 360.06 128.10 360.23 128.46 360.41 128.82 360.59 129.18 360.77 129.54 360.95 129.89 361.13 130.25 361.32 130.61 361.51 130.97 361.71 131.32 361.91 131.68 362.12 132.04 362.33 132.39 362.54 132.75 362.75 133.11 362.97 133.46 363.19 133.82 363.41 134.17 363.63 134.53 363.85 134.89 364.07 135.24 364.28 135.60 364.50 135.95 364.72 136.30 364.93 136.66 365.15 137.01 365.36 137.37 365.58 137.72 365.79 138.08 366.01 138.43 366.23 138.78 366.45 139.14 366.66 139.49 366.88 139.84 367.10 140.20 367.32 140.55 367.54 140.90 367.76 141.26 367.98 141.61 368.20 141.96 368.42 142.31 368.65 142.67 368.87 143.02 369.09 143.37 369.29 143.72 369.49 144.07 369.70 144.43 369.90 144.78 370.11 145.13 370.31 145.48 370.52 145.83 370.73" stroke="#b0b0b0" stroke-width="1.85"/>
<path d="M52.49 321.63 52.48 321.15 52.49 320.68 52.51 320.22 52.54 319.77 52.59 319.33 52.65 318.90 52.73 318.48 52.82 318.07 52.92 317.67 53.03 317.28 53.16 316.90 53.30 316.53 53.44 316.17 53.61 315.82 53.78 315.48 53.96 315.14 54.15 314.82 54.36 314.50 54.57 314.19 54.79 313.89 55.03 313.60 55.27 313.32 55.52 313.05 55.78 312.78 56.05 312.53 56.18 312.40M61.40 309.36 61.77 309.23 62.14 309.10 62.51 308.98 62.89 308.87 63.27 308.76 63.65 308.65 64.03 308.56 64.41 308.47 64.79 308.38 65.18 308.30 65.57 308.22 65.95 308.15 66.34 308.08 66.73 308.02 67.12 307.97 67.51 307.91 67.90 307.87 68.29 307.82 68.69 307.78 69.08 307.75 69.48 307.72 69.87 307.69 70.27 307.66 70.66 307.64 71.06 307.62 71.46 307.61 71.86 307.60 72.26 307.59 72.66 307.58 73.06 307.58 73.46 307.58 73.86 307.58 74.26 307.58 74.66 307.59 75.07 307.60M80.32 307.82 80.72 307.84 81.13 307.86 81.53 307.89 81.94 307.91 82.34 307.93 82.74 307.95 83.15 307.97 83.55 308.00 83.96 308.02 84.36 308.04 84.77 308.06 85.17 308.09 85.57 308.11 85.98 308.13 86.38 308.16 86.79 308.18 87.19 308.20 87.59 308.23 88.00 308.25 88.40 308.28 88.81 308.30 89.21 308.33 89.61 308.35 90.02 308.38 90.42 308.40 90.82 308.43 91.23 308.45 91.63 308.48 92.03 308.50 92.44 308.53 92.84 308.56 93.24 308.59 93.64 308.61 94.05 308.64M99.47 308.81 99.87 308.81 100.27 308.82 100.67 308.83 101.07 308.84 101.48 308.85 101.88 308.86 102.28 308.88 102.68 308.90 103.08 308.92 103.48 308.94 103.88 308.97 104.28 309.00 104.67 309.04 105.07 309.08 105.47 309.12 105.87 309.16 106.27 309.20 106.67 309.24 107.07 309.29 107.47 309.33 107.86 309.38 108.26 309.42 108.66 309.47 109.06 309.52 109.46 309.56 109.85 309.61 110.25 309.66 110.65 309.71 111.04 309.76 111.44 309.81 111.84 309.86 112.23 309.92 112.63 309.97 113.03 310.02 113.22 310.05M118.35 310.84 118.74 310.90 119.14 310.97 119.53 311.04 119.92 311.11 120.31 311.18 120.71 311.25 121.10 311.32 121.49 311.39 121.88 311.46 122.27 311.54 122.66 311.61 123.05 311.69 123.44 311.77 123.83 311.85 124.22 311.93 124.61 312.01 125.00 312.09 125.39 312.17 125.78 312.26 126.17 312.34 126.56 312.43 126.95 312.51 127.33 312.60 127.72 312.69 128.11 312.78 128.49 312.87 128.88 312.97 129.27 313.06 129.65 313.16 130.04 313.25 130.43 313.35 130.81 313.45 131.20 313.55 131.58 313.65 131.97 313.75 132.16 313.80M137.32 315.30 137.70 315.42 138.08 315.54 138.46 315.66 138.83 315.79 139.21 315.91 139.59 316.04 139.97 316.16 140.35 316.29 140.72 316.42 141.10 316.55 141.48 316.68 141.85 316.81 142.23 316.95 142.60 317.08 142.98 317.22 143.35 317.36 143.72 317.49 144.10 317.63 144.47 317.77 144.84 317.92 145.21 318.06 145.59 318.20 145.96 318.35 146.33 318.49 146.70 318.64 147.07 318.79 147.44 318.94 147.81 319.09 148.18 319.24 148.54 319.40 148.91 319.55 149.28 319.71 149.64 319.86 150.01 320.02 150.38 320.18 150.74 320.34 150.92 320.42M156.16 322.87 156.51 323.05 156.87 323.23 157.22 323.41 157.58 323.59 157.93 323.77 158.29 323.96 158.64 324.14 158.99 324.33 159.35 324.52 159.70 324.70 160.05 324.89 160.40 325.08 160.75 325.27 161.10 325.47 161.45 325.66 161.79 325.85 162.14 326.05 162.49 326.25 162.83 326.45 163.18 326.64 163.52 326.84 163.87 327.05 164.21 327.25 164.55 327.45 164.90 327.66 165.24 327.86 165.58 328.07 165.92 328.28 166.26 328.48 166.60 328.69 166.94 328.91 167.27 329.12 167.61 329.33 167.95 329.55 168.28 329.76 168.62 329.98 168.95 330.20 169.28 330.41 169.62 330.63M174.84 334.30 175.16 334.53 175.48 334.77 175.79 335.02 176.11 335.26 176.43 335.50 176.74 335.75 177.06 336.00 177.37 336.25 177.69 336.50 178.00 336.76 178.31 337.01 178.62 337.27 178.93 337.53 179.24 337.79 179.55 338.05 179.86 338.31 180.17 338.58 180.47 338.84 180.78 339.11 181.08 339.38 181.38 339.65 181.69 339.92 181.99 340.19 182.29 340.47 182.59 340.74 182.89 341.02 183.19 341.30 183.48 341.57 183.78 341.85 184.08 342.14 184.37 342.42 184.66 342.70 184.96 342.99 185.25 343.27 185.54 343.56 185.83 343.85 186.12 344.13 186.41 344.42 186.69 344.71 186.98 345.01 187.26 345.30 187.55 345.59 187.83 345.88 188.11 346.18 188.26 346.33M192.90 351.37 193.16 351.67 193.42 351.97 193.69 352.28 193.95 352.58 194.21 352.89 194.46 353.19 194.72 353.50 194.98 353.81 195.23 354.12 195.49 354.43 195.74 354.74 195.99 355.05 196.25 355.37 196.50 355.68 196.75 356.00 196.99 356.31 197.24 356.63 197.49 356.95 197.73 357.27 197.97 357.59 198.22 357.91 198.46 358.23 198.70 358.56 198.94 358.88 199.17 359.21 199.41 359.53 199.65 359.86 199.88 360.19 200.12 360.52 200.35 360.85 200.58 361.18 200.81 361.51 201.04 361.84 201.26 362.18 201.49 362.51 201.72 362.85 201.94 363.18 202.16 363.52 202.38 363.86 202.61 364.20 202.82 364.54 203.04 364.88M206.07 369.94 206.27 370.30 206.46 370.66 206.66 371.02 206.85 371.38 207.05 371.74" stroke="#b0b0b0" stroke-width="1.85"/>
<path d="M52.48 321.64 52.61 322.08 52.74 322.51 52.89 322.93 53.04 323.34 53.20 323.74 53.36 324.13 53.54 324.51 53.72 324.88 53.91 325.25 54.11 325.60 54.31 325.94 54.52 326.27 54.74 326.59 54.97 326.91 55.20 327.21 55.44 327.51 55.68 327.80 55.93 328.07 56.19 328.34 56.45 328.60 56.72 328.85 57.00 329.10 57.28 329.33 57.56 329.56 57.85 329.78 58.15 329.99 58.45 330.19 58.75 330.39 59.06 330.58 59.38 330.76 59.70 330.93 60.02 331.10 60.35 331.25 60.68 331.41 61.02 331.55 61.36 331.69 61.70 331.82 62.05 331.94 62.40 332.06 62.75 332.17 63.10 332.27 63.46 332.37 63.83 332.46 64.19 332.55 64.56 332.63 64.93 332.70 65.30 332.77 65.67 332.83 66.05 332.89 66.42 332.94 66.80 332.98 67.18 333.02 67.57 333.06 67.95 333.09 68.33 333.11 68.72 333.13 69.11 333.15 69.50 333.16 69.89 333.17 70.28 333.17 70.67 333.16 71.06 333.16 71.45 333.14 71.85 333.13 72.24 333.11 72.64 333.08 73.03 333.05 73.43 333.02 73.83 332.98 74.22 332.94 74.62 332.89 75.02 332.84 75.42 332.79 75.82 332.73 76.22 332.67 76.62 332.61 77.03 332.54 77.43 332.47 77.83 332.39 78.23 332.31 78.63 332.23 79.04 332.15 79.44 332.06 79.84 331.97 80.24 331.88 80.65 331.81 81.05 331.73 81.45 331.64 81.85 331.56 82.25 331.47 82.66 331.38 83.06 331.29 83.46 331.20 83.86 331.10 84.26 331.00 84.66 330.90 85.06 330.80 85.46 330.69 85.86 330.59 86.25 330.48 86.65 330.37 87.05 330.26 87.44 330.14 87.84 330.03 88.23 329.91 88.62 329.80 89.02 329.68 89.41 329.56 89.80 329.44 90.19 329.32 90.58 329.20 90.96 329.08 91.35 328.95 91.73 328.82 92.12 328.70 92.50 328.56 92.88 328.43 93.26 328.29 93.64 328.16 94.02 328.02 94.39 327.87 94.77 327.73 95.14 327.58 95.51 327.44 95.88 327.29 96.25 327.14 96.62 326.99 96.99 326.84 97.36 326.68 97.72 326.53 98.08 326.37 98.45 326.22 98.81 326.06 99.17 325.90 99.53 325.74 99.89 325.58 100.25 325.42 100.61 325.26 100.96 325.09 101.32 324.93 101.67 324.77 102.03 324.60 102.38 324.43 102.73 324.27 103.08 324.10 103.43 323.93 103.78 323.76 104.13 323.59 104.48 323.42 104.83 323.25 105.18 323.08 105.52 322.90 105.87 322.73 106.21 322.56 106.56 322.39 106.90 322.22 107.25 322.04 107.59 321.87 107.93 321.70 108.28 321.52 108.62 321.35 108.96 321.18 109.30 321.00 109.64 320.83 109.98 320.65 110.32 320.47 110.66 320.30 111.00 320.12 111.34 319.94 111.68 319.76 112.02 319.58 112.36 319.40 112.70 319.21 113.03 319.03 113.37 318.85 113.71 318.66 114.05 318.47 114.39 318.29 114.73 318.10 115.06 317.91 115.40 317.71 115.74 317.52 116.08 317.33 116.41 317.13 116.75 316.93 117.09 316.73 117.43 316.53 117.76 316.32 118.10 316.11 118.44 315.89 118.77 315.67 119.11 315.44 119.44 315.20 119.78 314.96 120.12 314.72 120.45 314.47 120.79 314.22 121.12 313.97 121.45 313.71 121.79 313.46 122.12 313.20 122.45 312.95 122.79 312.69 123.12 312.44 123.45 312.18 123.78 311.93 124.11 311.68 124.45 311.43 124.78 311.18 125.11 310.93 125.44 310.67 125.76 310.41 126.09 310.15 126.42 309.89 126.75 309.63 127.08 309.37 127.40 309.11 127.73 308.85 128.05 308.59 128.38 308.34 128.70 308.08 129.03 307.83 129.35 307.59 129.67 307.34 130.00 307.10 130.32 306.86 130.64 306.62 130.96 306.38 131.28 306.14 131.60 305.89 131.92 305.65 132.24 305.41 132.56 305.17 132.88 304.92 133.20 304.68 133.52 304.43 133.84 304.19 134.16 303.94 134.47 303.70 134.79 303.45 135.11 303.20 135.43 302.96 135.74 302.71 136.06 302.47 136.38 302.22 136.69 301.97 137.01 301.73 137.33 301.48 137.64 301.23 137.96 300.98 138.28 300.74 138.59 300.49 138.91 300.24 139.23 300.00 139.54 299.75 139.86 299.51 140.18 299.26 140.49 299.01 140.81 298.77 141.13 298.52 141.45 298.28 141.76 298.03 142.08 297.79 142.40 297.55 142.72 297.30 143.03 297.06 143.35 296.82 143.67 296.58 143.99 296.34 144.31 296.10 144.63 295.86 144.95 295.62 145.27 295.38 145.59 295.14 145.91 294.91 146.23 294.67 146.55 294.44 146.87 294.20 147.19 293.97 147.52 293.73 147.84 293.50 148.16 293.27 148.49 293.04 148.81 292.81 149.14 292.58 149.46 292.36 149.79 292.14 150.11 291.93 150.44 291.73 150.77 291.53 151.10 291.33 151.43 291.14 151.76 290.94 152.09 290.75 152.42 290.57 152.75 290.38 153.08 290.19 153.41 290.00 153.75 289.80 154.08 289.61 154.41 289.41 154.75 289.20 155.08 289.00 155.42 288.79 155.75 288.58 156.09 288.37 156.43 288.16 156.77 287.95 157.11 287.75 157.45 287.54 157.78 287.34 158.13 287.13 158.47 286.93 158.81 286.73 159.15 286.52 159.49 286.32 159.84 286.12 160.18 285.92 160.52 285.73 160.87 285.53 161.22 285.33 161.56 285.14 161.91 284.95 162.26 284.76 162.60 284.57 162.95 284.38 163.30 284.19 163.65 284.00 164.00 283.82 164.35 283.64 164.70 283.46 165.06 283.28 165.41 283.10 165.76 282.93 166.12 282.76 166.47 282.59 166.83 282.42 167.18 282.26 167.54 282.09 167.90 281.93 168.25 281.77 168.61 281.61 168.97 281.45 169.33 281.29 169.69 281.13 170.05 280.97 170.41 280.81 170.77 280.65 171.14 280.49 171.50 280.33 171.86 280.18 172.23 280.02 172.59 279.87 172.96 279.71 173.32 279.56 173.69 279.41 174.06 279.26 174.42 279.12 174.79 278.97 175.16 278.83 175.53 278.68 175.90 278.54 176.27 278.41 176.64 278.27 177.02 278.13 177.39 278.00 177.76 277.87 178.14 277.73 178.51 277.60 178.89 277.46 179.26 277.33 179.64 277.19 180.02 277.05 180.39 276.92 180.77 276.78 181.15 276.65 181.53 276.51 181.91 276.38 182.29 276.25 182.67 276.12 183.05 276.00 183.44 275.87 183.82 275.75 184.20 275.64 184.59 275.52 184.97 275.41 185.36 275.30 185.75 275.19 186.13 275.08 186.52 274.98 186.91 274.87 187.30 274.77 187.68 274.67 188.07 274.57 188.46 274.47 188.85 274.37 189.24 274.27 189.64 274.17 190.03 274.08 190.42 273.98 190.81 273.88 191.21 273.79 191.60 273.69 191.99 273.59 192.39 273.49 192.78 273.39 193.18 273.30 193.57 273.20 193.97 273.11 194.36 273.02 194.76 272.94 195.16 272.85 195.55 272.77 195.95 272.70 196.35 272.63 196.75 272.56 197.15 272.49 197.54 272.42 197.94 272.36 198.34 272.29 198.74 272.23 199.14 272.17 199.54 272.11 199.94 272.06 200.34 272.00 200.74 271.95 201.14 271.89 201.54 271.84 201.94 271.78 202.34 271.73 202.74 271.68 203.15 271.62 203.55 271.57 203.95 271.52 204.35 271.47 204.75 271.42 205.15 271.37 205.55 271.32 205.96 271.27 206.36 271.22 206.76 271.18 207.16 271.13 207.56 271.08 207.96 271.04 208.37 270.99 208.77 270.94 209.17 270.90 209.57 270.85 209.97 270.81 210.38 270.77 210.78 270.72 211.18 270.68 211.58 270.63 211.98 270.59 212.38 270.55 212.78 270.51 213.18 270.46 213.59 270.42 213.99 270.38 214.39 270.34 214.79 270.30 215.19 270.26 215.59 270.23 215.99 270.21 216.39 270.18 216.79 270.15 217.19 270.13 217.59 270.10 217.99 270.07 218.39 270.05 218.79 270.02 219.19 270.00 219.59 269.97 219.99 269.95 220.39 269.92 220.79 269.90 221.19 269.88 221.59 269.85 221.99 269.83 222.39 269.81 222.79 269.78 223.19 269.76 223.59 269.74 223.99 269.72 224.39 269.69 224.79 269.67 225.19 269.65 225.59 269.63 225.99 269.61 226.39 269.59 226.79 269.57 227.19 269.55 227.58 269.53 227.98 269.51 228.38 269.49 228.78 269.47 229.18 269.45 229.58 269.43 229.98 269.41 230.38 269.39 230.78 269.38 231.18 269.36 231.57 269.34 231.97 269.32 232.37 269.31 232.77 269.29 233.17 269.27 233.57 269.25 233.97 269.24 234.36 269.22 234.76 269.21 235.16 269.19 235.56 269.18 235.96 269.16 236.36 269.15 236.76 269.13 237.15 269.12 237.55 269.10 237.95 269.09 238.35 269.07 238.75 269.06 239.15 269.05 239.54 269.03 239.94 269.02 240.34 269.01 240.74 268.99 241.14 268.98 241.54 268.97 241.93 268.96 242.33 268.94 242.73 268.93 243.13 268.92 243.53 268.91 243.93 268.90 244.32 268.89 244.72 268.88 245.12 268.87 245.52 268.86 245.92 268.85 246.32 268.84 246.71 268.83 247.11 268.82 247.51 268.81 247.91 268.80 248.31 268.79 248.71 268.78 249.10 268.77 249.50 268.76 249.90 268.76 250.30 268.75 250.70 268.74 251.09 268.73 251.49 268.72 251.89 268.72 252.29 268.71 252.69 268.70 253.09 268.70 253.49 268.69 253.88 268.68 254.28 268.68 254.68 268.67 255.08 268.66 255.48 268.66 255.88 268.65 256.27 268.65 256.67 268.64 257.07 268.64 257.47 268.63 257.87 268.63 258.27 268.62 258.67 268.62 259.06 268.61 259.46 268.61 259.86 268.60 260.26 268.60 260.66 268.60 261.06 268.59 261.46 268.59 261.86 268.59 262.26 268.58 262.65 268.58 263.05 268.58 263.45 268.57 263.85 268.57 264.25 268.57 264.65 268.57 265.05 268.56 265.45 268.56 265.85 268.56 266.25 268.56 266.65 268.56 267.05 268.56 267.45 268.55 267.84 268.55 268.24 268.55 268.64 268.55 269.04 268.55 269.44 268.55 269.84 268.55 270.24 268.55 270.64 268.55 271.04 268.55 271.44 268.55 271.84 268.55 272.24 268.55 272.64 268.55 273.04 268.55 273.44 268.55 273.84 268.55 274.24 268.55 274.64 268.55 275.05 268.55 275.45 268.55 275.85 268.56 276.25 268.56 276.65 268.56 277.05 268.56 277.45 268.56 277.85 268.56 278.25 268.57 278.65 268.57 279.05 268.57 279.46 268.57 279.86 268.58 280.26 268.58 280.66 268.58 281.06 268.58 281.46 268.59 281.86 268.59 282.27 268.59 282.67 268.60 283.07 268.60 283.47 268.60 283.87 268.61 284.28 268.61 284.68 268.61 285.08 268.62 285.48 268.62 285.89 268.62 286.29 268.63 286.69 268.63 287.09 268.64 287.50 268.64 287.90 268.65 288.30 268.65 288.70 268.65 289.11 268.66 289.51 268.66" stroke="#000" stroke-width="1.95"/>
<path d="M52.49 321.64 52.51 321.16 52.55 320.69 52.59 320.22 52.65 319.77 52.71 319.32 52.77 318.88 52.85 318.45 52.93 318.02 53.02 317.61 53.12 317.19 53.22 316.79 53.34 316.40 53.46 316.01 53.58 315.62 53.72 315.25 53.86 314.88 54.00 314.52 54.16 314.16 54.32 313.81 54.48 313.47 54.65 313.13 54.83 312.80 55.02 312.48 55.21 312.16 55.41 311.85 55.61 311.55 55.82 311.25 56.03 310.95 56.25 310.67 56.48 310.38 56.71 310.11 56.94 309.84 57.18 309.57 57.43 309.31 57.68 309.06M62.79 305.36 63.11 305.19 63.44 305.02 63.78 304.86 64.11 304.70 64.45 304.54 64.79 304.38 65.14 304.23 65.49 304.09 65.84 303.94 66.19 303.80 66.55 303.67 66.90 303.53 67.26 303.40 67.63 303.27 67.99 303.15 68.36 303.02 68.73 302.90 69.10 302.78 69.48 302.67 69.86 302.56 70.23 302.45 70.62 302.34 71.00 302.24 71.38 302.13 71.77 302.03 72.16 301.93 72.55 301.84 72.94 301.74 73.33 301.65 73.73 301.56 74.12 301.47 74.52 301.38 74.92 301.30 75.32 301.21 75.72 301.13 76.13 301.05 76.33 301.01M81.65 300.07 82.06 300.01 82.47 299.94 82.89 299.87 83.30 299.81 83.72 299.74 84.13 299.68 84.54 299.61 84.96 299.55 85.37 299.48 85.78 299.42 86.20 299.35 86.61 299.29 87.02 299.22 87.43 299.16 87.85 299.09 88.26 299.02 88.67 298.96 89.08 298.89 89.49 298.82 89.90 298.75 90.30 298.68 90.71 298.61 91.12 298.54 91.52 298.47 91.93 298.39 92.33 298.32 92.73 298.24 93.14 298.17 93.54 298.09 93.94 298.02 94.34 297.94 94.74 297.86 95.14 297.79 95.34 297.75M100.48 296.68 100.87 296.60 101.26 296.53 101.65 296.45 102.04 296.37 102.43 296.29 102.82 296.22 103.21 296.14 103.60 296.06 103.98 295.98 104.37 295.90 104.76 295.81 105.14 295.73 105.53 295.65 105.91 295.56 106.30 295.48 106.68 295.39 107.06 295.30 107.45 295.21 107.83 295.12 108.21 295.03 108.59 294.94 108.98 294.85 109.36 294.75 109.74 294.66 110.12 294.56 110.50 294.46 110.88 294.36 111.25 294.26 111.63 294.16 112.01 294.05 112.39 293.95 112.77 293.84 113.14 293.73 113.52 293.62 113.90 293.51 114.27 293.40M119.50 291.70 119.88 291.57 120.25 291.44 120.62 291.32 120.99 291.19 121.36 291.05 121.73 290.92 122.10 290.79 122.47 290.66 122.84 290.52 123.21 290.39 123.58 290.25 123.95 290.11 124.32 289.98 124.69 289.84 125.06 289.70 125.42 289.56 125.79 289.42 126.16 289.27 126.53 289.13 126.90 288.99 127.26 288.84 127.63 288.70 128.00 288.55 128.37 288.40 128.73 288.25 129.10 288.10 129.47 287.95 129.84 287.80 130.20 287.65 130.57 287.50 130.94 287.34 131.30 287.19 131.67 287.03 132.04 286.88 132.40 286.72 132.77 286.56 133.14 286.40M138.26 284.12 138.63 283.96 138.99 283.79 139.36 283.62 139.73 283.46 140.09 283.29 140.46 283.12 140.83 282.96 141.19 282.79 141.56 282.62 141.93 282.45 142.29 282.29 142.66 282.12 143.03 281.95 143.39 281.78 143.76 281.62 144.13 281.45 144.50 281.28 144.86 281.12 145.23 280.95 145.60 280.78 145.97 280.62 146.33 280.45 146.70 280.28 147.07 280.12 147.44 279.95 147.81 279.79 148.18 279.63 148.54 279.46 148.91 279.30 149.28 279.14 149.65 278.98 150.02 278.81 150.39 278.65 150.76 278.49 151.13 278.33 151.50 278.17 151.87 278.02M157.08 275.90 157.46 275.75 157.83 275.61 158.20 275.47 158.58 275.33 158.95 275.19 159.33 275.05 159.71 274.91 160.08 274.78 160.46 274.64 160.83 274.51 161.21 274.37 161.59 274.24 161.96 274.11 162.34 273.98 162.72 273.85 163.10 273.72 163.48 273.60 163.85 273.47 164.23 273.35 164.61 273.22 164.99 273.10 165.37 272.98 165.75 272.86 166.13 272.74 166.51 272.62 166.89 272.50 167.27 272.39 167.65 272.27 168.03 272.16 168.41 272.04 168.80 271.93 169.18 271.82 169.56 271.71 169.94 271.60 170.32 271.49 170.71 271.38M175.89 269.97 176.28 269.86 176.67 269.76 177.05 269.65 177.44 269.55 177.82 269.44 178.21 269.34 178.60 269.24 178.98 269.13 179.37 269.03 179.76 268.93 180.15 268.83 180.54 268.73 180.92 268.63 181.31 268.53 181.70 268.43 182.09 268.34 182.48 268.24 182.87 268.14 183.26 268.05 183.65 267.96 184.04 267.86 184.42 267.77 184.81 267.68 185.20 267.60 185.60 267.53 185.99 267.45 186.38 267.38 186.77 267.31 187.16 267.24 187.55 267.17 187.94 267.10 188.33 267.03 188.72 266.96 189.12 266.90 189.51 266.83 189.70 266.80M194.81 266.01 195.21 265.95 195.60 265.89 196.00 265.84 196.39 265.79 196.79 265.73 197.18 265.68 197.58 265.63 197.97 265.58 198.37 265.53 198.76 265.48 199.16 265.43 199.55 265.38 199.95 265.33 200.34 265.28 200.74 265.24 201.14 265.19 201.53 265.15 201.93 265.10 202.33 265.06 202.72 265.01 203.12 264.97 203.52 264.93 203.91 264.89 204.31 264.84 204.71 264.80 205.10 264.76 205.50 264.72 205.90 264.68 206.30 264.65 206.69 264.61 207.09 264.57 207.49 264.53 207.89 264.50 208.29 264.46 208.68 264.43M213.87 264.02 214.27 263.99 214.67 263.96 215.07 263.93 215.47 263.91 215.87 263.88 216.27 263.86 216.67 263.83 217.07 263.81 217.47 263.78 217.87 263.76 218.27 263.73 218.67 263.71 219.07 263.69 219.47 263.67 219.87 263.64 220.27 263.62 220.67 263.60 221.07 263.58 221.47 263.56 221.87 263.54 222.27 263.52 222.67 263.50 223.08 263.48 223.48 263.46 223.88 263.45 224.28 263.43 224.68 263.41 225.08 263.39 225.48 263.38 225.88 263.36 226.28 263.35 226.69 263.33 227.09 263.32 227.49 263.30 227.69 263.29M232.91 263.13 233.31 263.12 233.71 263.11 234.12 263.10 234.52 263.09 234.92 263.08 235.32 263.07 235.72 263.06 236.13 263.05 236.53 263.05 236.93 263.04 237.33 263.03 237.73 263.02 238.14 263.01 238.54 263.01 238.94 263.00 239.34 262.99 239.74 262.99 240.14 262.98 240.55 262.97 240.95 262.97 241.35 262.96 241.75 262.96 242.15 262.95 242.56 262.94 242.96 262.94 243.36 262.93 243.76 262.93 244.16 262.92 244.57 262.92 244.97 262.91 245.37 262.91 245.77 262.91 246.17 262.90 246.57 262.90 246.78 262.90M251.99 262.85 252.40 262.85 252.80 262.85 253.20 262.85 253.60 262.84 254.00 262.84 254.40 262.84 254.80 262.84 255.20 262.83 255.60 262.83 256.00 262.83 256.41 262.83 256.81 262.82 257.21 262.82 257.61 262.82 258.01 262.82 258.41 262.81 258.81 262.81 259.21 262.81 259.61 262.81 260.01 262.81 260.41 262.80 260.81 262.80 261.21 262.80 261.61 262.80 262.01 262.79 262.41 262.79 262.81 262.79 263.21 262.79 263.61 262.78 264.01 262.78 264.41 262.78 264.81 262.77 265.20 262.77 265.60 262.77 265.80 262.77M270.98 262.72 271.38 262.71 271.78 262.71 272.18 262.70 272.57 262.70 272.97 262.69 273.37 262.68 273.76 262.68 274.16 262.67 274.56 262.67 274.96 262.66 275.35 262.65 275.75 262.65 276.14 262.64 276.54 262.63 276.94 262.63 277.33 262.62 277.73 262.61 278.12 262.60 278.52 262.59 278.92 262.59 279.31 262.58 279.71 262.57 280.10 262.56 280.50 262.55 280.89 262.54 281.29 262.53 281.68 262.52 282.08 262.51 282.47 262.50 282.86 262.49 283.26 262.48 283.65 262.47 284.05 262.45 284.44 262.44 284.83 262.43" stroke="#000" stroke-width="1.95"/>
</g>
<rect x="52.30" y="204.30" width="237.50" height="165.55" fill="none" stroke="#383838" stroke-width="0.90"/>
<path d="M49.50 204.30h2.80M49.50 237.41h2.80M49.50 270.52h2.80M49.50 303.63h2.80M49.50 336.74h2.80M49.50 369.85h2.80M52.30 369.85v2.80M83.96 369.85v2.80M115.62 369.85v2.80M147.28 369.85v2.80M178.94 369.85v2.80M210.60 369.85v2.80M242.26 369.85v2.80M273.92 369.85v2.80" stroke="#3a3a3a" stroke-width="0.75" fill="none"/>
<g clip-path="url(#cpD)" fill="none" stroke-linejoin="round">
<path d="M327.83 321.63 327.77 322.07 327.72 322.52 327.67 322.96 327.63 323.40 327.59 323.83 327.56 324.27 327.53 324.70 327.51 325.13 327.50 325.56 327.49 325.98 327.49 326.41 327.49 326.83 327.49 327.25 327.50 327.66 327.52 328.08 327.54 328.49 327.57 328.90 327.60 329.31 327.64 329.72 327.68 330.12 327.73 330.52 327.78 330.92 327.83 331.32 327.89 331.72 327.96 332.11 328.03 332.50 328.11 332.89 328.19 333.28 328.27 333.66 328.36 334.05 328.45 334.43 328.55 334.77 328.65 335.08 328.76 335.39 328.87 335.69 328.99 335.98 329.11 336.28 329.23 336.56 329.36 336.84 329.49 337.12 329.63 337.40 329.77 337.67 329.92 337.94 330.06 338.20 330.22 338.47 330.37 338.73 330.54 338.99 330.70 339.25 330.87 339.51 331.04 339.78 331.22 340.04 331.40 340.31 331.58 340.57 331.77 340.85 331.96 341.13 332.16 341.41 332.36 341.70 332.56 341.99 332.76 342.28 332.97 342.57 333.19 342.86 333.40 343.14 333.62 343.42 333.84 343.70 334.07 343.98 334.30 344.26 334.53 344.54 334.77 344.82 335.01 345.09 335.25 345.37 335.49 345.64 335.74 345.92 335.99 346.19 336.25 346.46 336.50 346.74 336.76 347.01 337.02 347.28 337.29 347.55 337.56 347.83 337.83 348.10 338.10 348.37 338.38 348.65 338.66 348.92 338.94 349.20 339.22 349.47 339.51 349.74 339.80 350.01 340.09 350.27 340.38 350.54 340.68 350.80 340.98 351.06 341.28 351.32 341.58 351.58 341.89 351.83 342.19 352.08 342.50 352.33 342.82 352.58 343.13 352.83 343.45 353.07 343.76 353.32 344.08 353.56 344.40 353.80 344.73 354.03 345.05 354.27 345.38 354.50 345.71 354.74 346.04 354.97 346.37 355.20 346.71 355.42 347.04 355.65 347.38 355.87 347.72 356.09 348.06 356.31 348.40 356.53 348.74 356.75 349.09 356.97 349.43 357.18 349.78 357.39 350.13 357.60 350.48 357.81 350.83 358.02 351.18 358.23 351.53 358.44 351.88 358.66 352.24 358.88 352.59 359.11 352.95 359.34 353.31 359.57 353.66 359.80 354.02 360.04 354.38 360.28 354.74 360.52 355.10 360.75 355.46 360.99 355.82 361.23 356.19 361.46 356.55 361.69 356.91 361.92 357.28 362.14 357.64 362.36 358.00 362.58 358.37 362.80 358.73 363.02 359.10 363.24 359.46 363.45 359.83 363.67 360.19 363.89 360.56 364.10 360.92 364.32 361.29 364.53 361.65 364.74 362.02 364.95 362.38 365.16 362.75 365.37 363.11 365.58 363.48 365.78 363.84 365.99 364.20 366.19 364.57 366.39 364.93 366.59 365.29 366.79 365.65 366.99 366.01 367.19 366.37 367.39 366.73 367.58 367.09 367.78 367.45 367.97 367.81 368.17 368.16 368.36 368.52 368.55 368.87 368.71 369.23 368.87 369.58 369.03 369.93 369.19 370.28 369.35 370.63 369.51 370.98 369.66 371.33 369.82 371.67 369.98 372.02 370.14 372.36 370.29 372.70 370.45 373.04 370.61 373.38 370.76" stroke="#d9d9d9" stroke-width="1.85"/>
<path d="M327.82 321.63 327.90 321.21 327.99 320.81M331.87 316.38 332.19 316.22 332.52 316.06 332.85 315.91 333.18 315.76 333.52 315.62 333.86 315.49 334.21 315.35 334.56 315.23 334.91 315.11 335.27 314.99 335.63 314.88 336.00 314.78 336.37 314.68 336.74 314.58 337.11 314.49 337.49 314.40 337.87 314.32 338.25 314.24 338.64 314.17 339.02 314.10 339.41 314.03 339.80 313.97 340.20 313.91 340.59 313.86 340.99 313.81 341.39 313.76 341.78 313.72 342.18 313.68 342.58 313.64 342.99 313.60 343.39 313.57 343.79 313.55 344.19 313.52 344.60 313.50 345.00 313.48 345.40 313.46 345.61 313.45M350.82 313.48 351.22 313.49 351.62 313.51 352.02 313.54 352.42 313.56 352.82 313.59 353.22 313.62 353.61 313.65 354.01 313.68 354.41 313.72 354.81 313.76 355.20 313.80 355.60 313.84 356.00 313.89 356.39 313.93 356.79 313.98 357.18 314.03 357.58 314.08 357.97 314.14 358.37 314.20 358.76 314.26 359.15 314.32 359.55 314.38 359.94 314.44 360.33 314.51 360.72 314.58 361.12 314.65 361.51 314.72 361.90 314.80 362.29 314.87 362.68 314.95 363.07 315.03 363.46 315.11 363.85 315.20 364.24 315.28 364.63 315.37M369.84 316.71 370.23 316.82 370.61 316.93 370.99 317.05 371.38 317.16 371.76 317.28 372.14 317.40 372.52 317.52 372.90 317.64 373.29 317.76 373.67 317.88 374.05 318.01 374.43 318.14 374.81 318.26 375.18 318.39 375.56 318.52 375.94 318.66 376.32 318.79 376.70 318.92 377.07 319.06 377.45 319.20 377.83 319.34 378.20 319.47 378.58 319.62 378.95 319.76 379.33 319.90 379.70 320.04 380.08 320.19 380.45 320.34 380.82 320.48 381.19 320.63 381.57 320.78 381.94 320.93 382.31 321.08 382.68 321.24 383.05 321.39 383.42 321.54 383.61 321.62M388.73 323.92 389.09 324.09 389.45 324.26 389.81 324.44 390.17 324.61 390.53 324.79 390.89 324.96 391.25 325.14 391.61 325.32 391.97 325.50 392.32 325.69 392.68 325.87 393.04 326.05 393.39 326.24 393.75 326.43 394.10 326.61 394.45 326.80 394.81 326.99 395.16 327.18 395.51 327.37 395.86 327.57 396.21 327.76 396.56 327.96 396.91 328.15 397.25 328.35 397.60 328.55 397.95 328.75 398.29 328.95 398.64 329.15 398.98 329.36 399.33 329.56 399.67 329.77 400.01 329.97 400.35 330.18 400.69 330.39 401.03 330.60 401.37 330.81 401.71 331.02 402.05 331.24 402.22 331.34M407.34 334.81 407.66 335.04 407.98 335.27 408.30 335.51 408.62 335.74 408.94 335.98 409.26 336.22 409.58 336.46 409.90 336.70 410.21 336.94 410.53 337.18 410.84 337.43 411.16 337.67 411.47 337.92 411.78 338.17 412.09 338.42 412.40 338.67 412.71 338.92 413.02 339.17 413.32 339.42 413.63 339.68 413.93 339.93 414.24 340.19 414.54 340.45 414.84 340.71 415.14 340.97 415.44 341.23 415.74 341.49 416.04 341.75 416.33 342.02 416.63 342.29 416.92 342.55 417.22 342.82 417.51 343.09 417.80 343.36 418.09 343.63 418.38 343.91 418.67 344.18 418.95 344.46 419.24 344.73 419.52 345.01 419.80 345.29 420.09 345.57 420.37 345.85 420.65 346.13 420.93 346.42M425.48 351.41 425.74 351.72 426.00 352.02 426.25 352.33 426.50 352.64 426.75 352.95 427.01 353.26 427.25 353.57 427.50 353.88 427.75 354.20 427.99 354.51 428.24 354.83 428.48 355.15 428.72 355.47 428.96 355.79 429.20 356.11 429.44 356.43 429.68 356.75 429.91 357.08 430.14 357.40 430.38 357.73 430.61 358.06 430.83 358.39 431.06 358.72 431.29 359.05 431.51 359.39 431.74 359.72 431.96 360.06 432.18 360.39 432.40 360.73 432.62 361.07 432.83 361.41 433.05 361.75 433.26 362.09 433.47 362.44 433.69 362.78 433.89 363.13 434.10 363.48 434.31 363.82 434.51 364.17 434.72 364.53 434.92 364.88 435.02 365.05M437.67 370.12 437.85 370.49 438.02 370.87 438.20 371.24 438.37 371.61 438.46 371.80" stroke="#d9d9d9" stroke-width="1.85"/>
<path d="M327.82 321.63 327.79 322.15 327.77 322.66 327.76 323.16 327.77 323.65 327.79 324.13 327.82 324.60 327.87 325.06 327.92 325.52 327.99 325.96 328.07 326.39 328.16 326.81 328.27 327.22 328.38 327.62 328.50 328.01 328.64 328.40 328.78 328.77 328.94 329.13 329.10 329.49 329.28 329.83 329.46 330.17 329.65 330.49 329.85 330.81 330.06 331.11 330.28 331.41 330.51 331.70 330.75 331.98 330.99 332.25 331.24 332.51 331.50 332.77 331.76 333.01 332.04 333.24 332.31 333.47 332.60 333.69 332.89 333.89 333.19 334.09 333.49 334.28 333.80 334.47 334.12 334.64 334.44 334.81 334.77 334.96 335.10 335.11 335.43 335.25 335.77 335.38 336.11 335.50 336.46 335.62 336.81 335.72 337.17 335.82 337.52 335.91 337.89 335.99 338.25 336.07 338.62 336.13 338.98 336.19 339.36 336.24 339.73 336.28 340.10 336.32 340.48 336.34 340.86 336.36 341.24 336.37 341.62 336.38 342.00 336.37 342.38 336.36 342.76 336.34 343.15 336.32 343.53 336.29 343.92 336.25 344.30 336.20 344.69 336.15 345.08 336.09 345.46 336.02 345.85 335.95 346.24 335.87 346.62 335.79 347.01 335.70 347.40 335.60 347.78 335.50 348.17 335.39 348.55 335.28 348.94 335.16 349.32 335.04 349.71 334.91 350.09 334.78 350.47 334.67 350.85 334.55 351.23 334.42 351.60 334.29 351.98 334.15 352.35 334.01 352.73 333.87 353.10 333.72 353.47 333.56 353.83 333.40 354.20 333.24 354.56 333.07 354.92 332.90 355.28 332.72 355.63 332.54 355.99 332.36 356.34 332.17 356.69 331.98 357.03 331.78 357.38 331.58 357.72 331.38 358.06 331.17 358.40 330.96 358.73 330.75 359.07 330.53 359.40 330.31 359.73 330.08 360.06 329.86 360.39 329.63 360.71 329.40 361.03 329.16 361.35 328.93 361.67 328.69 361.99 328.45 362.31 328.20 362.62 327.96 362.94 327.71 363.25 327.47 363.56 327.22 363.87 326.97 364.18 326.72 364.48 326.47 364.79 326.22 365.09 325.98 365.39 325.73 365.70 325.48 366.00 325.23 366.30 324.98 366.59 324.73 366.89 324.48 367.19 324.23 367.48 323.98 367.78 323.73 368.07 323.47 368.36 323.21 368.66 322.95 368.95 322.69 369.24 322.43 369.53 322.16 369.82 321.89 370.11 321.62 370.40 321.34 370.69 321.06 370.97 320.78 371.26 320.49 371.55 320.21 371.83 319.92 372.12 319.62 372.40 319.33 372.69 319.03 372.97 318.73 373.26 318.44 373.54 318.13 373.82 317.83 374.10 317.53 374.39 317.22 374.67 316.92 374.95 316.61 375.22 316.31 375.50 316.00 375.78 315.69 376.06 315.38 376.33 315.07 376.61 314.76 376.88 314.45 377.15 314.14 377.43 313.83 377.70 313.52 377.97 313.20 378.24 312.89 378.50 312.58 378.77 312.27 379.04 311.95 379.30 311.64 379.57 311.32 379.83 311.00 380.09 310.68 380.35 310.36 380.61 310.04 380.87 309.72 381.13 309.40 381.38 309.07 381.64 308.75 381.89 308.42 382.14 308.09 382.39 307.77 382.64 307.44 382.89 307.10 383.14 306.77 383.38 306.44 383.62 306.10 383.87 305.77 384.11 305.43 384.35 305.09 384.58 304.75 384.82 304.41 385.05 304.07 385.29 303.73 385.52 303.39 385.75 303.04 385.98 302.69 386.20 302.37 386.43 302.05 386.65 301.73 386.87 301.40 387.09 301.08 387.31 300.75 387.52 300.42 387.74 300.10 387.95 299.77 388.16 299.44 388.37 299.10 388.58 298.77 388.79 298.44 388.99 298.10 389.20 297.77 389.40 297.43 389.60 297.09 389.80 296.75 390.00 296.41 390.20 296.07 390.39 295.73 390.59 295.38 390.78 295.04 390.97 294.69 391.17 294.35 391.36 294.00 391.54 293.65 391.73 293.31 391.92 292.96 392.11 292.61 392.29 292.26 392.47 291.90 392.66 291.55 392.84 291.20 393.02 290.85 393.20 290.49 393.38 290.14 393.56 289.78 393.73 289.42 393.91 289.07 394.09 288.71 394.26 288.35 394.44 287.99 394.61 287.63 394.78 287.27 394.95 286.91 395.13 286.55 395.30 286.19 395.47 285.83 395.64 285.47 395.81 285.11 395.97 284.74 396.14 284.38 396.31 284.02 396.48 283.65 396.65 283.29 396.81 282.92 396.98 282.56 397.14 282.19 397.31 281.83 397.47 281.46 397.64 281.09 397.80 280.73 397.97 280.36 398.13 279.99 398.30 279.63 398.46 279.26 398.63 278.89 398.79 278.53 398.95 278.16 399.12 277.79 399.28 277.42 399.45 277.06 399.61 276.69 399.77 276.32 399.94 275.95 400.10 275.59 400.27 275.22 400.43 274.85 400.59 274.48 400.76 274.12 400.92 273.75 401.09 273.38 401.26 273.02 401.42 272.65 401.59 272.28 401.75 271.92 401.92 271.55 402.09 271.19 402.26 270.82 402.42 270.45 402.59 270.09 402.76 269.73 402.93 269.36 403.10 269.00 403.27 268.63 403.45 268.27 403.62 267.91 403.79 267.55 403.96 267.18 404.14 266.82 404.31 266.46 404.49 266.10 404.66 265.74 404.84 265.38 405.02 265.02 405.20 264.66 405.38 264.31 405.56 263.95 405.74 263.59 405.92 263.23 406.11 262.88 406.29 262.52 406.48 262.17 406.66 261.82 406.85 261.46 407.03 261.11 407.22 260.76 407.41 260.40 407.60 260.05 407.79 259.70 407.98 259.35 408.17 259.00 408.37 258.65 408.56 258.30 408.75 257.95 408.95 257.60 409.14 257.26 409.34 256.91 409.53 256.56 409.73 256.21 409.93 255.87 410.13 255.52 410.33 255.18 410.53 254.83 410.73 254.48 410.93 254.14 411.13 253.80 411.33 253.45 411.53 253.11 411.73 252.77 411.94 252.42 412.14 252.08 412.35 251.74 412.55 251.40 412.76 251.05 412.96 250.71 413.17 250.37 413.38 250.03 413.58 249.69 413.79 249.35 414.00 249.01 414.21 248.67 414.42 248.33 414.63 247.99 414.84 247.65 415.05 247.31 415.26 246.97 415.47 246.63 415.68 246.30 415.89 245.96 416.10 245.62 416.32 245.28 416.53 244.94 416.74 244.61 416.95 244.27 417.17 243.93 417.38 243.60 417.60 243.26 417.81 242.92 418.03 242.59 418.24 242.25 418.46 241.91 418.67 241.58 418.89 241.24 419.11 240.91 419.32 240.57 419.54 240.23 419.76 239.90 419.98 239.56 420.19 239.23 420.41 238.90 420.63 238.56 420.85 238.23 421.07 237.89 421.29 237.56 421.51 237.23 421.73 236.89 421.95 236.56 422.17 236.23 422.39 235.89 422.61 235.56 422.84 235.23 423.06 234.90 423.28 234.56 423.50 234.23 423.73 233.90 423.95 233.57 424.17 233.24 424.40 232.91 424.62 232.58 424.85 232.24 425.07 231.91 425.30 231.58 425.53 231.25 425.75 230.92 425.98 230.59 426.20 230.27 426.43 229.94 426.66 229.61 426.89 229.28 427.12 228.95 427.34 228.62 427.57 228.29 427.80 227.97 428.03 227.64 428.26 227.31 428.49 226.98 428.72 226.66 428.95 226.33 429.18 226.00 429.41 225.68 429.65 225.35 429.88 225.02 430.11 224.70 430.34 224.37 430.58 224.05 430.81 223.72 431.04 223.40 431.28 223.07 431.51 222.75 431.74 222.42 431.98 222.10 432.21 221.78 432.45 221.45 432.69 221.13 432.92 220.81 433.16 220.48 433.40 220.16 433.63 219.84 433.87 219.52 434.11 219.20 434.35 218.87 434.58 218.55 434.82 218.23 435.06 217.91 435.30 217.59 435.54 217.27 435.78 216.95 436.02 216.63 436.26 216.31 436.50 215.99 436.74 215.67 436.99 215.35 437.23 215.03 437.47 214.72 437.71 214.40 437.95 214.08 438.20 213.76 438.44 213.45 438.69 213.13 438.93 212.81 439.17 212.49 439.42 212.18 439.66 211.86 439.91 211.55 440.16 211.23 440.40 210.92 440.65 210.60 440.89 210.29 441.14 209.97 441.39 209.66 441.64 209.34 441.88 209.03 442.13 208.72 442.38 208.40 442.63 208.09 442.88 207.78 443.13 207.47 443.38 207.15 443.63 206.84 443.88 206.53 444.13 206.22 444.38 205.91 444.63 205.60 444.88 205.29 445.14 204.98 445.39 204.67 445.64 204.36 445.90 204.05 446.15 203.74 446.40 203.43 446.66 203.12 446.91 202.82 447.17 202.51 447.42 202.20" stroke="#b0b0b0" stroke-width="1.85"/>
<path d="M327.82 321.64 327.80 321.14 327.79 320.65 327.79 320.17 327.81 319.70 327.83 319.24 327.86 318.78 327.91 318.34 327.96 317.90 328.02 317.47 328.09 317.05 328.17 316.63 328.26 316.22 328.36 315.82 328.47 315.43 328.59 315.05 328.71 314.67 328.85 314.30 328.99 313.94 329.14 313.58 329.30 313.23 329.38 313.06M333.37 308.00 333.66 307.76 333.94 307.53 334.24 307.30 334.54 307.08 334.84 306.86 335.15 306.64 335.46 306.43 335.78 306.22 336.10 306.02 336.42 305.82 336.75 305.63 337.08 305.44 337.41 305.25 337.75 305.07 338.09 304.89 338.44 304.71 338.79 304.54 339.14 304.37 339.49 304.20 339.85 304.03 340.20 303.87 340.57 303.71 340.93 303.55 341.30 303.40 341.66 303.25 342.03 303.10 342.41 302.95 342.78 302.80 343.16 302.65 343.53 302.51 343.91 302.37 344.29 302.23 344.67 302.09 345.06 301.95 345.44 301.81 345.83 301.67 346.21 301.54 346.60 301.40 346.98 301.26M352.22 299.41 352.61 299.27 352.99 299.12 353.37 298.98 353.76 298.83 354.14 298.68 354.52 298.53 354.90 298.38 355.28 298.26 355.66 298.14 356.03 298.03 356.41 297.92 356.78 297.80 357.16 297.68 357.53 297.56 357.90 297.44 358.28 297.32 358.65 297.19 359.02 297.06 359.39 296.93 359.75 296.80 360.12 296.66 360.49 296.52 360.85 296.38 361.22 296.24 361.58 296.09 361.94 295.94 362.30 295.78 362.66 295.62 363.02 295.46 363.38 295.29 363.74 295.12 364.10 294.95 364.45 294.77 364.81 294.58 365.16 294.40 365.51 294.21 365.86 294.01M371.02 290.98 371.35 290.77 371.69 290.56 372.02 290.34 372.35 290.12 372.68 289.91 373.01 289.69 373.34 289.47 373.67 289.24 373.99 289.02 374.32 288.80 374.64 288.57 374.97 288.34 375.29 288.12 375.61 287.89 375.93 287.65 376.25 287.42 376.56 287.19 376.88 286.95 377.20 286.72 377.51 286.48 377.82 286.24 378.14 286.00 378.45 285.76 378.76 285.51 379.06 285.27 379.37 285.02 379.68 284.78 379.98 284.53 380.29 284.28 380.59 284.03 380.89 283.78 381.19 283.52 381.49 283.27 381.79 283.01 382.08 282.76 382.38 282.50 382.67 282.24 382.96 281.98 383.26 281.71 383.55 281.45 383.84 281.18 384.12 280.92 384.41 280.65 384.55 280.52M389.26 275.47 389.53 275.15 389.80 274.83 390.06 274.51 390.33 274.18 390.59 273.86 390.86 273.53 391.12 273.21 391.38 272.89 391.64 272.56 391.90 272.24 392.16 271.91 392.42 271.59 392.68 271.27 392.93 270.94 393.19 270.62 393.44 270.30 393.70 269.99 393.95 269.67 394.21 269.35 394.46 269.04 394.71 268.73 394.96 268.42 395.21 268.11 395.46 267.80 395.71 267.49 395.95 267.18 396.20 266.87 396.45 266.56 396.69 266.25 396.94 265.93 397.18 265.62 397.43 265.30 397.67 264.99 397.91 264.67 398.15 264.35 398.39 264.04 398.63 263.72 398.87 263.40 399.11 263.08 399.35 262.76 399.59 262.44 399.83 262.12 399.95 261.96M403.57 256.90 403.80 256.57 404.03 256.24 404.26 255.91 404.49 255.58 404.72 255.25 404.95 254.92 405.18 254.59 405.40 254.25 405.63 253.92 405.86 253.59 406.09 253.25 406.31 252.92 406.54 252.59 406.77 252.25 406.99 251.92 407.22 251.58 407.44 251.25 407.67 250.91 407.89 250.58 408.12 250.24 408.34 249.91 408.57 249.57 408.79 249.23 409.02 248.90 409.24 248.56 409.47 248.22 409.69 247.89 409.92 247.55 410.14 247.21 410.36 246.88 410.59 246.54 410.81 246.21 411.03 245.87 411.26 245.54 411.48 245.21 411.71 244.87 411.93 244.54 412.15 244.21 412.38 243.88 412.60 243.56 412.71 243.39M416.30 238.22 416.53 237.91 416.75 237.59 416.98 237.27 417.21 236.96 417.43 236.64 417.66 236.32 417.89 236.01 418.11 235.69 418.34 235.38 418.57 235.07 418.80 234.75 419.03 234.44 419.26 234.13 419.48 233.81 419.71 233.50 419.94 233.19 420.17 232.88 420.40 232.57 420.64 232.26 420.87 231.95 421.10 231.64 421.33 231.33 421.56 231.02 421.80 230.71 422.03 230.40 422.26 230.09 422.50 229.78 422.73 229.48 422.97 229.17 423.20 228.86 423.44 228.55 423.68 228.24 423.91 227.94 424.15 227.63 424.39 227.32 424.63 227.01 424.87 226.71 425.11 226.40 425.35 226.09 425.59 225.79 425.83 225.48 426.07 225.18 426.31 224.88 426.44 224.73M430.80 219.58 431.06 219.29 431.32 219.00 431.57 218.72 431.83 218.43 432.09 218.14 432.35 217.86 432.61 217.57 432.88 217.28 433.14 217.00 433.40 216.71 433.67 216.43 433.93 216.14 434.20 215.86 434.47 215.57 434.74 215.29 435.01 215.00 435.28 214.72 435.55 214.43 435.82 214.14 436.10 213.86 436.37 213.57 436.65 213.28 436.92 213.00 437.20 212.71 437.48 212.42 437.76 212.14 438.04 211.85 438.32 211.56 438.60 211.28 438.89 210.99 439.17 210.71 439.46 210.42 439.75 210.13 440.03 209.85 440.32 209.56 440.61 209.28 440.91 208.99 441.20 208.71 441.49 208.42 441.79 208.14 442.09 207.85 442.38 207.57 442.68 207.29 442.98 207.00 443.28 206.72 443.59 206.44 443.74 206.29" stroke="#b0b0b0" stroke-width="1.85"/>
<path d="M327.81 321.64 328.01 322.09 328.22 322.53 328.44 322.94 328.66 323.34 328.89 323.72 329.12 324.08 329.37 324.42 329.61 324.74 329.87 325.05 330.13 325.34 330.39 325.61 330.67 325.87 330.94 326.11 331.22 326.33 331.51 326.54 331.80 326.73 332.10 326.91 332.40 327.07 332.70 327.21 333.01 327.35 333.32 327.46 333.64 327.57 333.96 327.66 334.28 327.74 334.61 327.80 334.94 327.85 335.27 327.89 335.60 327.92 335.94 327.93 336.27 327.93 336.61 327.92 336.96 327.90 337.30 327.87 337.65 327.83 338.00 327.78 338.35 327.71 338.70 327.64 339.05 327.55 339.40 327.46 339.76 327.36 340.11 327.25 340.47 327.13 340.82 327.00 341.18 326.86 341.54 326.71 341.90 326.56 342.25 326.39 342.61 326.23 342.97 326.05 343.33 325.87 343.68 325.67 344.04 325.48 344.40 325.28 344.75 325.07 345.11 324.85 345.46 324.63 345.81 324.41 346.16 324.18 346.51 323.94 346.86 323.70 347.20 323.46 347.55 323.21 347.89 322.96 348.23 322.70 348.57 322.44 348.90 322.18 349.23 321.92 349.56 321.65 349.89 321.38 350.21 321.11 350.54 320.84 350.85 320.56 351.17 320.29 351.48 320.01 351.79 319.73 352.10 319.45 352.40 319.16 352.70 318.88 353.00 318.59 353.30 318.30 353.59 318.01 353.88 317.72 354.17 317.43 354.45 317.13 354.73 316.84 355.01 316.54 355.29 316.24 355.57 315.94 355.84 315.64 356.11 315.34 356.37 315.03 356.64 314.73 356.90 314.42 357.16 314.11 357.42 313.80 357.67 313.49 357.93 313.18 358.18 312.86 358.43 312.55 358.67 312.23 358.92 311.91 359.16 311.59 359.40 311.27 359.64 310.95 359.87 310.63 360.11 310.30 360.34 309.98 360.57 309.65 360.80 309.32 361.02 309.00 361.25 308.67 361.47 308.34 361.69 308.00 361.91 307.67 362.13 307.34 362.34 307.00 362.56 306.67 362.77 306.33 362.98 305.99 363.19 305.66 363.40 305.32 363.60 304.98 363.81 304.64 364.01 304.29 364.21 303.95 364.41 303.61 364.61 303.26 364.81 302.92 365.01 302.57 365.20 302.22 365.40 301.88 365.59 301.53 365.78 301.18 365.97 300.83 366.16 300.48 366.35 300.13 366.54 299.78 366.72 299.43 366.91 299.07 367.09 298.72 367.28 298.37 367.46 298.01 367.64 297.66 367.82 297.30 368.00 296.95 368.18 296.59 368.36 296.23 368.53 295.87 368.71 295.52 368.89 295.16 369.06 294.80 369.24 294.44 369.41 294.08 369.59 293.72 369.76 293.36 369.93 293.00 370.10 292.64 370.28 292.28 370.45 291.92 370.62 291.56 370.79 291.20 370.96 290.83 371.13 290.47 371.30 290.11 371.47 289.75 371.64 289.38 371.81 289.02 371.98 288.66 372.14 288.30 372.31 287.93 372.48 287.57 372.65 287.21 372.82 286.84 372.99 286.48 373.16 286.12 373.33 285.76 373.50 285.39 373.67 285.03 373.84 284.67 374.01 284.30 374.18 283.94 374.35 283.58 374.52 283.22 374.69 282.86 374.86 282.49 375.03 282.13 375.20 281.77 375.37 281.41 375.55 281.05 375.72 280.69 375.89 280.32 376.07 279.96 376.24 279.60 376.41 279.24 376.59 278.88 376.76 278.52 376.94 278.16 377.11 277.80 377.29 277.44 377.47 277.08 377.64 276.72 377.82 276.36 378.00 276.00 378.17 275.64 378.35 275.29 378.53 274.93 378.71 274.57 378.89 274.21 379.07 273.85 379.25 273.49 379.43 273.14 379.61 272.78 379.79 272.42 379.97 272.06 380.15 271.71 380.33 271.35 380.51 270.99 380.69 270.64 380.88 270.28 381.06 269.93 381.24 269.57 381.43 269.21 381.61 268.86 381.79 268.50 381.98 268.15 382.16 267.79 382.35 267.44 382.53 267.08 382.72 266.73 382.91 266.37 383.09 266.02 383.28 265.67 383.47 265.31 383.66 264.96 383.84 264.61 384.03 264.25 384.22 263.90 384.41 263.55 384.60 263.20 384.79 262.84 384.98 262.49 385.17 262.14 385.36 261.79 385.55 261.44 385.75 261.09 385.94 260.74 386.13 260.38 386.32 260.03 386.52 259.68 386.71 259.33 386.90 258.98 387.10 258.63 387.29 258.29 387.49 257.94 387.68 257.59 387.88 257.24 388.08 256.89 388.27 256.54 388.47 256.19 388.67 255.85 388.86 255.50 389.06 255.15 389.26 254.80 389.46 254.46 389.66 254.11 389.86 253.76 390.06 253.42 390.26 253.07 390.46 252.73 390.66 252.38 390.86 252.03 391.06 251.69 391.27 251.34 391.47 251.00 391.67 250.66 391.88 250.31 392.08 249.97 392.28 249.62 392.49 249.28 392.69 248.94 392.90 248.60 393.11 248.25 393.31 247.91 393.52 247.57 393.73 247.23 393.93 246.89 394.14 246.54 394.35 246.20 394.56 245.86 394.77 245.52 394.98 245.18 395.19 244.84 395.40 244.50 395.61 244.16 395.82 243.82 396.03 243.48 396.24 243.14 396.45 242.81 396.67 242.47 396.88 242.13 397.09 241.79 397.31 241.46 397.52 241.12 397.74 240.78 397.95 240.44 398.17 240.11 398.38 239.77 398.60 239.44 398.82 239.10 399.03 238.77 399.25 238.43 399.47 238.10 399.69 237.76 399.91 237.43 400.13 237.09 400.35 236.76 400.57 236.43 400.79 236.09 401.01 235.76 401.23 235.43 401.45 235.10 401.68 234.77 401.90 234.43 402.12 234.10 402.35 233.77 402.57 233.44 402.79 233.11 403.02 232.78 403.24 232.45 403.47 232.12 403.70 231.79 403.92 231.46 404.15 231.14 404.38 230.81 404.61 230.48 404.83 230.15 405.06 229.82 405.29 229.50 405.52 229.17 405.75 228.84 405.98 228.52 406.22 228.19 406.45 227.87 406.68 227.54 406.91 227.22 407.14 226.89 407.38 226.57 407.61 226.24 407.85 225.92 408.08 225.60 408.32 225.28 408.55 224.95 408.79 224.63 409.02 224.31 409.26 223.99 409.50 223.67 409.74 223.34 409.97 223.02 410.21 222.70 410.45 222.38 410.69 222.06 410.93 221.74 411.17 221.43 411.42 221.11 411.66 220.79 411.90 220.47 412.14 220.15 412.38 219.84 412.63 219.52 412.87 219.20 413.12 218.89 413.36 218.57 413.61 218.25 413.85 217.94 414.10 217.62 414.35 217.31 414.59 216.99 414.84 216.68 415.09 216.37 415.34 216.05 415.59 215.74 415.84 215.43 416.09 215.12 416.34 214.80 416.59 214.49 416.84 214.18 417.09 213.87 417.34 213.56 417.60 213.25 417.85 212.94 418.10 212.63 418.36 212.32 418.61 212.01 418.87 211.71 419.13 211.40 419.38 211.09 419.64 210.78 419.90 210.48 420.15 210.17 420.41 209.86 420.67 209.56 420.93 209.25 421.19 208.95 421.45 208.64 421.71 208.34 421.97 208.04 422.24 207.73 422.50 207.43 422.76 207.13 423.02 206.83 423.29 206.52 423.55 206.22 423.82 205.92 424.08 205.62 424.35 205.32 424.62 205.02 424.88 204.72 425.15 204.42 425.42 204.12 425.69 203.82 425.96 203.53 426.22 203.23 426.49 202.93 426.77 202.63 427.04 202.34 427.31 202.04" stroke="#000" stroke-width="1.95"/>
<path d="M327.88 320.75 327.90 320.38 327.92 320.01 327.95 319.63 327.97 319.24 328.00 318.85 328.02 318.45 328.05 318.05 328.09 317.64 328.12 317.23 328.16 316.82 328.20 316.40 328.24 315.98 328.29 315.56 328.34 315.14 328.39 314.71 328.45 314.29 328.51 313.86 328.57 313.43 328.64 313.01 328.72 312.58 328.80 312.16 328.88 311.74 328.98 311.32 329.07 310.90 329.17 310.49 329.28 310.08 329.40 309.67 329.52 309.27 329.65 308.87 329.78 308.48 329.92 308.09 330.07 307.71 330.23 307.33 330.40 306.96M334.28 301.99 334.57 301.75 334.87 301.51 335.18 301.27 335.48 301.04 335.80 300.82 336.12 300.59 336.44 300.37 336.76 300.16 337.09 299.95 337.42 299.74 337.76 299.53 338.10 299.33 338.44 299.12 338.78 298.92 339.12 298.72 339.47 298.53 339.81 298.33 340.16 298.13 340.51 297.94 340.86 297.74 341.21 297.55 341.56 297.35 341.91 297.16 342.26 296.96 342.60 296.76 342.95 296.56 343.30 296.36 343.64 296.16 343.99 295.96 344.33 295.75 344.67 295.54 345.01 295.34 345.35 295.18 345.69 295.01 346.03 294.85 346.37 294.69 346.70 294.52 347.04 294.35 347.37 294.18 347.71 294.01 347.87 293.92M352.91 290.78 353.23 290.55 353.55 290.31 353.86 290.07 354.18 289.82 354.49 289.58 354.80 289.34 355.12 289.09 355.43 288.85 355.74 288.60 356.05 288.35 356.35 288.10 356.66 287.85 356.97 287.60 357.27 287.35 357.58 287.09 357.88 286.84 358.18 286.58 358.49 286.33 358.79 286.07 359.09 285.81 359.38 285.55 359.68 285.29 359.98 285.02 360.28 284.76 360.57 284.50 360.87 284.23 361.16 283.97 361.45 283.70 361.74 283.43 362.03 283.16 362.32 282.89 362.61 282.62 362.90 282.35 363.19 282.07 363.47 281.80 363.76 281.52 364.04 281.25 364.33 280.97 364.61 280.69 364.89 280.41 365.17 280.13 365.45 279.85 365.73 279.57 366.01 279.29 366.29 279.00 366.42 278.86M370.73 273.76 370.99 273.43 371.25 273.10 371.51 272.76 371.77 272.43 372.03 272.10 372.29 271.76 372.54 271.43 372.80 271.10 373.05 270.77 373.31 270.44 373.56 270.12 373.81 269.79 374.07 269.47 374.32 269.15 374.57 268.84 374.82 268.52 375.06 268.21 375.31 267.90 375.56 267.58 375.81 267.27 376.05 266.96 376.30 266.64 376.54 266.33 376.78 266.01 377.03 265.70 377.27 265.38 377.51 265.06 377.75 264.75 377.99 264.43 378.23 264.11 378.47 263.79 378.71 263.47 378.95 263.15 379.18 262.83 379.42 262.51 379.66 262.18 379.89 261.86 380.13 261.54 380.36 261.21 380.59 260.89 380.83 260.56 381.06 260.24M384.61 255.15 384.84 254.82 385.07 254.49 385.29 254.15 385.52 253.82 385.74 253.49 385.97 253.16 386.19 252.82 386.42 252.49 386.64 252.16 386.86 251.82 387.09 251.49 387.31 251.16 387.53 250.82 387.76 250.49 387.98 250.15 388.20 249.82 388.42 249.48 388.65 249.15 388.87 248.81 389.09 248.48 389.31 248.14 389.53 247.81 389.76 247.47 389.98 247.14 390.20 246.80 390.42 246.47 390.64 246.13 390.86 245.80 391.08 245.46 391.31 245.12 391.53 244.79 391.75 244.45 391.97 244.12 392.19 243.78 392.41 243.44 392.63 243.11 392.86 242.77 393.08 242.44 393.30 242.10 393.52 241.77 393.63 241.60M397.08 236.41 397.31 236.08 397.53 235.75 397.76 235.41 397.98 235.08 398.21 234.75 398.44 234.42 398.66 234.09 398.89 233.77 399.12 233.44 399.34 233.12 399.57 232.80 399.80 232.48 400.03 232.16 400.26 231.84 400.49 231.53 400.72 231.21 400.95 230.90 401.18 230.59 401.41 230.28 401.64 229.97 401.87 229.66 402.10 229.36 402.34 229.05 402.57 228.75 402.80 228.44 403.04 228.14 403.27 227.84 403.51 227.54 403.74 227.24 403.98 226.95 404.22 226.65 404.45 226.35 404.69 226.06 404.93 225.76 405.17 225.47 405.41 225.17 405.65 224.88 405.89 224.59 406.13 224.30 406.38 224.00 406.62 223.71 406.86 223.42 407.11 223.13 407.23 222.99M411.90 217.83 412.16 217.56 412.43 217.30 412.69 217.03 412.95 216.76 413.22 216.49 413.48 216.22 413.75 215.95 414.02 215.68 414.28 215.41 414.55 215.13 414.82 214.86 415.09 214.58 415.37 214.30 415.64 214.02 415.91 213.73 416.19 213.44 416.47 213.16 416.74 212.87 417.02 212.58 417.30 212.30 417.58 212.01 417.87 211.72 418.15 211.44 418.43 211.15 418.72 210.87 419.01 210.58 419.29 210.29 419.58 210.01 419.87 209.72 420.16 209.44 420.46 209.15 420.75 208.86 421.04 208.58 421.34 208.29 421.64 208.00 421.94 207.71 422.24 207.42 422.54 207.13 422.84 206.84 423.15 206.54 423.45 206.25 423.76 205.95 424.06 205.67 424.37 205.41 424.68 205.15 425.00 204.90 425.15 204.77" stroke="#000" stroke-width="1.95"/>
</g>
<rect x="327.80" y="204.30" width="237.40" height="165.55" fill="none" stroke="#383838" stroke-width="0.90"/>
<path d="M325.00 204.30h2.80M325.00 237.41h2.80M325.00 270.52h2.80M325.00 303.63h2.80M325.00 336.74h2.80M325.00 369.85h2.80M327.80 369.85v2.80M359.46 369.85v2.80M391.12 369.85v2.80M422.78 369.85v2.80M454.44 369.85v2.80M486.10 369.85v2.80M517.76 369.85v2.80M549.42 369.85v2.80" stroke="#3a3a3a" stroke-width="0.75" fill="none"/>
<g fill="#000" stroke="#000" stroke-width="0.25">
<text x="43.5" y="14.05" font-size="10.2" text-anchor="end">10000</text>
<text x="43.5" y="47.12" font-size="10.2" text-anchor="end">1000</text>
<text x="43.5" y="80.19" font-size="10.2" text-anchor="end">100</text>
<text x="43.5" y="113.26" font-size="10.2" text-anchor="end">10</text>
<text x="43.5" y="146.33" font-size="10.2" text-anchor="end">1</text>
<text x="43.5" y="179.40" font-size="10.2" text-anchor="end">0.1</text>
<text x="43.5" y="207.95" font-size="10.2" text-anchor="end">10000</text>
<text x="43.5" y="241.06" font-size="10.2" text-anchor="end">1000</text>
<text x="43.5" y="274.17" font-size="10.2" text-anchor="end">100</text>
<text x="43.5" y="307.28" font-size="10.2" text-anchor="end">10</text>
<text x="43.5" y="340.39" font-size="10.2" text-anchor="end">1</text>
<text x="43.5" y="373.50" font-size="10.2" text-anchor="end">0.1</text>
<text x="52.30" y="386.55" font-size="10.2" text-anchor="middle">0</text>
<text x="83.96" y="386.55" font-size="10.2" text-anchor="middle">200</text>
<text x="115.62" y="386.55" font-size="10.2" text-anchor="middle">400</text>
<text x="147.28" y="386.55" font-size="10.2" text-anchor="middle">600</text>
<text x="178.94" y="386.55" font-size="10.2" text-anchor="middle">800</text>
<text x="210.60" y="386.55" font-size="10.2" text-anchor="middle">1000</text>
<text x="242.26" y="386.55" font-size="10.2" text-anchor="middle">1200</text>
<text x="273.92" y="386.55" font-size="10.2" text-anchor="middle">1400</text>
<text x="327.80" y="386.55" font-size="10.2" text-anchor="middle">0</text>
<text x="359.46" y="386.55" font-size="10.2" text-anchor="middle">200</text>
<text x="391.12" y="386.55" font-size="10.2" text-anchor="middle">400</text>
<text x="422.78" y="386.55" font-size="10.2" text-anchor="middle">600</text>
<text x="454.44" y="386.55" font-size="10.2" text-anchor="middle">800</text>
<text x="486.10" y="386.55" font-size="10.2" text-anchor="middle">1000</text>
<text x="517.76" y="386.55" font-size="10.2" text-anchor="middle">1200</text>
<text x="549.42" y="386.55" font-size="10.2" text-anchor="middle">1400</text>
<text x="171.4" y="411.3" font-size="11.9" text-anchor="middle">Time since infection (days)</text>
<text x="446.6" y="411.3" font-size="11.9" text-anchor="middle">Time since infection (days)</text>
<text transform="translate(11.1 92.70) rotate(-90)" font-size="11.9" text-anchor="middle">Number of macrophages per lesion</text>
<text transform="translate(11.1 292.70) rotate(-90)" font-size="11.9" text-anchor="middle">Number of macrophages per lesion</text>
<text x="264.3" y="164.9" font-size="14.7">A</text>
<text x="541.7" y="164.8" font-size="14.7">B</text>
<text x="263.9" y="358.9" font-size="14.7">C</text>
<text x="541.6" y="358.8" font-size="14.7">D</text>
<rect x="168.7" y="19.6" width="104.6" height="44.8" fill="#fff" stroke="#383838" stroke-width="0.90"/>
<path d="M177.7 35.2H216.4" stroke="#000" stroke-width="1.95"/>
<path d="M177.7 48.8H215.4" stroke="#000" stroke-width="1.95" stroke-dasharray="14 5"/>
<text x="225.6" y="38.9" font-size="10.6">Infected</text>
<text x="226.0" y="52.4" font-size="10.6">Total</text>
</g>
</svg>
</body></html>
